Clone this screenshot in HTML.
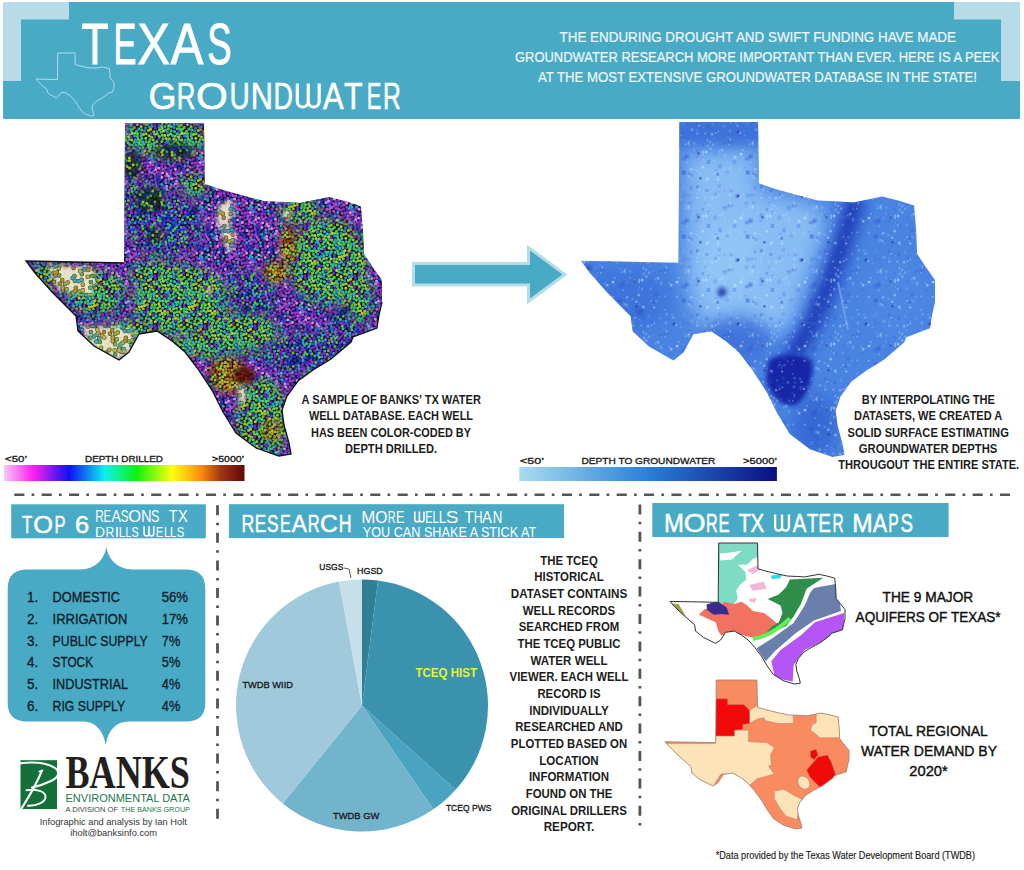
<!DOCTYPE html>
<html><head><meta charset="utf-8"><title>Texas Groundwater</title>
<style>html,body{margin:0;padding:0;background:#fff;width:1024px;height:870px;overflow:hidden}</style>
</head><body>
<svg width="1024" height="870" viewBox="0 0 1024 870" style="display:block">
<defs>
<clipPath id="cm1"><path d="M125.0,123.0 L204.0,123.0 L205.0,184.0 L214.0,187.0 L223.0,190.0 L245.0,196.0 L264.0,201.0 L285.0,202.0 L300.0,203.0 L329.0,197.0 L345.0,201.0 L361.0,206.0 L363.0,230.0 L364.0,254.0 L372.0,266.0 L382.0,280.0 L382.0,302.0 L379.0,315.0 L377.0,328.0 L353.0,337.0 L351.0,342.0 L331.0,359.0 L313.0,370.0 L298.0,381.0 L287.0,396.0 L282.0,410.0 L284.0,425.0 L289.0,443.0 L291.0,454.0 L279.0,456.0 L256.0,448.0 L236.0,433.0 L223.0,412.0 L213.0,392.0 L198.0,369.0 L185.0,352.0 L172.0,341.0 L157.0,331.0 L139.0,334.0 L129.0,352.0 L119.0,360.0 L94.0,346.0 L78.0,331.0 L76.0,316.0 L53.0,293.0 L35.0,273.0 L26.0,261.0 L124.0,263.0 Z"/></clipPath>
<clipPath id="cm2"><path d="M679.4,122.0 L758.0,122.0 L759.0,183.4 L767.9,186.4 L776.9,189.4 L798.8,195.4 L817.7,200.5 L838.5,201.5 L853.5,202.5 L882.3,196.4 L898.2,200.5 L914.1,205.5 L916.1,229.6 L917.1,253.8 L925.1,265.9 L935.0,279.9 L935.0,302.1 L932.0,315.2 L930.0,328.2 L906.2,337.3 L904.2,342.3 L884.3,359.4 L866.4,370.5 L851.5,381.5 L840.5,396.6 L835.6,410.7 L837.6,425.8 L842.5,443.9 L844.5,455.0 L832.6,457.0 L809.7,449.0 L789.8,433.9 L776.9,412.7 L766.9,392.6 L752.0,369.5 L739.1,352.4 L726.2,341.3 L711.3,331.2 L693.4,334.3 L683.4,352.4 L673.5,360.4 L648.6,346.3 L632.7,331.2 L630.7,316.2 L607.8,293.0 L589.9,272.9 L581.0,260.8 L678.4,262.8 Z"/></clipPath>
<clipPath id="cm3"><path d="M718.7,543.0 L757.5,543.0 L758.0,568.8 L762.4,570.1 L766.8,571.4 L777.7,573.9 L787.0,576.0 L797.3,576.5 L804.7,576.9 L818.9,574.3 L826.8,576.0 L834.7,578.1 L835.7,588.3 L836.2,598.5 L840.1,603.5 L845.0,609.5 L845.0,618.8 L843.5,624.3 L842.5,629.8 L830.7,633.6 L829.8,635.7 L819.9,642.9 L811.1,647.6 L803.7,652.2 L798.3,658.6 L795.8,664.5 L796.8,670.9 L799.3,678.5 L800.3,683.2 L794.4,684.0 L783.1,680.6 L773.2,674.3 L766.8,665.4 L761.9,656.9 L754.6,647.2 L748.2,640.0 L741.8,635.3 L734.4,631.1 L725.5,632.3 L720.6,640.0 L715.7,643.4 L703.4,637.4 L695.6,631.1 L694.6,624.7 L683.3,615.0 L674.4,606.5 L670.0,601.4 L718.2,602.3 Z"/></clipPath>
<clipPath id="cm4"><path d="M716.2,680.0 L757.0,680.0 L757.5,707.3 L762.2,708.6 L766.8,710.0 L778.2,712.7 L788.0,714.9 L798.9,715.3 L806.6,715.8 L821.6,713.1 L829.9,714.9 L838.1,717.1 L839.2,727.9 L839.7,738.6 L843.8,744.0 L849.0,750.2 L849.0,760.1 L847.4,765.9 L846.4,771.7 L834.0,775.8 L833.0,778.0 L822.6,785.6 L813.3,790.5 L805.6,795.4 L799.9,802.2 L797.3,808.4 L798.3,815.1 L800.9,823.2 L802.0,828.1 L795.8,829.0 L783.9,825.4 L773.5,818.7 L766.8,809.3 L761.7,800.4 L753.9,790.1 L747.2,782.5 L740.5,777.5 L732.7,773.1 L723.4,774.4 L718.2,782.5 L713.1,786.0 L700.1,779.8 L691.9,773.1 L690.8,766.4 L679.0,756.1 L669.7,747.1 L665.0,741.7 L715.7,742.6 Z"/></clipPath>
<linearGradient id="g1" x1="0" x2="1" y1="0" y2="0"><stop offset="0" stop-color="#f8c8f4"/><stop offset="0.12" stop-color="#ff20f0"/><stop offset="0.27" stop-color="#1010f0"/><stop offset="0.42" stop-color="#10f0f0"/><stop offset="0.55" stop-color="#10f010"/><stop offset="0.70" stop-color="#ffff10"/><stop offset="0.82" stop-color="#ff8a10"/><stop offset="0.90" stop-color="#a03810"/><stop offset="1" stop-color="#600808"/></linearGradient>
<linearGradient id="g2" x1="0" x2="1" y1="0" y2="0"><stop offset="0" stop-color="#a8ddef"/><stop offset="0.5" stop-color="#2a7fd8"/><stop offset="1" stop-color="#0a0f80"/></linearGradient>
<filter id="bl8" x="-50%" y="-50%" width="200%" height="200%"><feGaussianBlur stdDeviation="8"/></filter>
<filter id="blur8" x="-50%" y="-50%" width="200%" height="200%"><feGaussianBlur stdDeviation="8"/></filter>
<filter id="blur3" x="-50%" y="-50%" width="200%" height="200%"><feGaussianBlur stdDeviation="3"/></filter>
<filter id="bl6" x="-50%" y="-50%" width="200%" height="200%"><feGaussianBlur stdDeviation="6"/></filter>
<filter id="bl4" x="-50%" y="-50%" width="200%" height="200%"><feGaussianBlur stdDeviation="4"/></filter>
<filter id="bl3" x="-50%" y="-50%" width="200%" height="200%"><feGaussianBlur stdDeviation="3"/></filter>
<filter id="bl2" x="-50%" y="-50%" width="200%" height="200%"><feGaussianBlur stdDeviation="2"/></filter>
</defs>
<rect width="1024" height="870" fill="#ffffff"/>
<rect x="3" y="2" width="1017" height="117" rx="1.5" fill="#49aac5"/>
<path d="M3,2 H69 V19.5 H21 V81 H3 Z" fill="#b8dce7"/>
<path d="M954,2 H1020 V81 H1001 V19.5 H954 Z" fill="#b8dce7"/>
<path d="M57.7,53.0 L75.0,53.0 L75.2,64.5 L77.2,65.1 L79.2,65.7 L84.0,66.8 L88.1,67.8 L92.7,67.9 L96.0,68.1 L102.4,67.0 L105.9,67.8 L109.4,68.7 L109.8,73.2 L110.1,77.8 L111.8,80.1 L114.0,82.7 L114.0,86.9 L113.3,89.3 L112.9,91.8 L107.6,93.5 L107.2,94.4 L102.8,97.6 L98.9,99.7 L95.6,101.8 L93.2,104.6 L92.1,107.3 L92.5,110.1 L93.6,113.5 L94.1,115.6 L91.4,116.0 L86.4,114.5 L82.0,111.6 L79.2,107.7 L77.0,103.9 L73.7,99.5 L70.8,96.3 L68.0,94.2 L64.7,92.4 L60.8,92.9 L58.6,96.3 L56.4,97.8 L50.9,95.2 L47.4,92.4 L47.0,89.5 L41.9,85.2 L38.0,81.4 L36.0,79.1 L57.5,79.5 Z" fill="none" stroke="#b5e3f0" stroke-width="0.9"/>
<text x="81.4" y="64.0" font-size="56.98" fill="#ffffff" font-weight="normal" text-anchor="start" font-family="'Liberation Sans',sans-serif" textLength="27.0" lengthAdjust="spacingAndGlyphs" stroke="#ffffff" stroke-width="1.0">T</text>
<text x="113.4" y="64.0" font-size="56.98" fill="#ffffff" font-weight="normal" text-anchor="start" font-family="'Liberation Sans',sans-serif" textLength="22.8" lengthAdjust="spacingAndGlyphs" stroke="#ffffff" stroke-width="1.0">E</text>
<text x="137.5" y="64.0" font-size="56.98" fill="#ffffff" font-weight="normal" text-anchor="start" font-family="'Liberation Sans',sans-serif" textLength="32.4" lengthAdjust="spacingAndGlyphs" stroke="#ffffff" stroke-width="1.0">X</text>
<text x="170.7" y="64.0" font-size="56.98" fill="#ffffff" font-weight="normal" text-anchor="start" font-family="'Liberation Sans',sans-serif" textLength="32.5" lengthAdjust="spacingAndGlyphs" stroke="#ffffff" stroke-width="1.0">A</text>
<text x="207.3" y="64.0" font-size="56.98" fill="#ffffff" font-weight="normal" text-anchor="start" font-family="'Liberation Sans',sans-serif" textLength="24.2" lengthAdjust="spacingAndGlyphs" stroke="#ffffff" stroke-width="1.0">S</text>
<text x="148.6" y="108.6" font-size="36.63" fill="#ffffff" font-weight="normal" text-anchor="start" font-family="'Liberation Sans',sans-serif" textLength="28.0" lengthAdjust="spacingAndGlyphs" stroke="#ffffff" stroke-width="0.6">G</text>
<text x="176.8" y="108.6" font-size="36.63" fill="#ffffff" font-weight="normal" text-anchor="start" font-family="'Liberation Sans',sans-serif" textLength="18.6" lengthAdjust="spacingAndGlyphs" stroke="#ffffff" stroke-width="0.6">R</text>
<text x="196.1" y="108.6" font-size="36.63" fill="#ffffff" font-weight="normal" text-anchor="start" font-family="'Liberation Sans',sans-serif" textLength="31.8" lengthAdjust="spacingAndGlyphs" stroke="#ffffff" stroke-width="0.6">O</text>
<text x="229.4" y="108.6" font-size="36.63" fill="#ffffff" font-weight="normal" text-anchor="start" font-family="'Liberation Sans',sans-serif" textLength="20.2" lengthAdjust="spacingAndGlyphs" stroke="#ffffff" stroke-width="0.6">U</text>
<text x="250.7" y="108.6" font-size="36.63" fill="#ffffff" font-weight="normal" text-anchor="start" font-family="'Liberation Sans',sans-serif" textLength="22.2" lengthAdjust="spacingAndGlyphs" stroke="#ffffff" stroke-width="0.6">N</text>
<text x="273.4" y="108.6" font-size="36.63" fill="#ffffff" font-weight="normal" text-anchor="start" font-family="'Liberation Sans',sans-serif" textLength="19.4" lengthAdjust="spacingAndGlyphs" stroke="#ffffff" stroke-width="0.6">D</text>
<path d="M297.30,83.40 V101.53 A5.47,5.47 0 0 0 308.25,101.53 V83.40 M308.25,101.53 A5.47,5.47 0 0 0 319.20,101.53 V83.40" fill="none" stroke="#ffffff" stroke-width="3.2"/>
<text x="322.9" y="108.6" font-size="36.63" fill="#ffffff" font-weight="normal" text-anchor="start" font-family="'Liberation Sans',sans-serif" textLength="20.6" lengthAdjust="spacingAndGlyphs" stroke="#ffffff" stroke-width="0.6">A</text>
<text x="344.1" y="108.6" font-size="36.63" fill="#ffffff" font-weight="normal" text-anchor="start" font-family="'Liberation Sans',sans-serif" textLength="18.6" lengthAdjust="spacingAndGlyphs" stroke="#ffffff" stroke-width="0.6">T</text>
<text x="366.7" y="108.6" font-size="36.63" fill="#ffffff" font-weight="normal" text-anchor="start" font-family="'Liberation Sans',sans-serif" textLength="14.6" lengthAdjust="spacingAndGlyphs" stroke="#ffffff" stroke-width="0.6">E</text>
<text x="383.0" y="108.6" font-size="36.63" fill="#ffffff" font-weight="normal" text-anchor="start" font-family="'Liberation Sans',sans-serif" textLength="17.8" lengthAdjust="spacingAndGlyphs" stroke="#ffffff" stroke-width="0.6">R</text>
<text x="559.5" y="41.6" font-size="14.83" fill="#eef8fb" font-weight="normal" text-anchor="start" font-family="'Liberation Sans',sans-serif" textLength="396.5" lengthAdjust="spacingAndGlyphs" stroke="#eef8fb" stroke-width="0.2">THE ENDURING DROUGHT AND SWIFT FUNDING HAVE MADE</text>
<text x="515.0" y="61.9" font-size="14.83" fill="#eef8fb" font-weight="normal" text-anchor="start" font-family="'Liberation Sans',sans-serif" textLength="484.5" lengthAdjust="spacingAndGlyphs" stroke="#eef8fb" stroke-width="0.2">GROUNDWATER RESEARCH MORE IMPORTANT THAN EVER. HERE IS A PEEK</text>
<text x="538.0" y="82.2" font-size="14.83" fill="#eef8fb" font-weight="normal" text-anchor="start" font-family="'Liberation Sans',sans-serif" textLength="439.0" lengthAdjust="spacingAndGlyphs" stroke="#eef8fb" stroke-width="0.2">AT THE MOST EXTENSIVE GROUNDWATER DATABASE IN THE STATE!</text>
<defs><pattern id="tpur" x="0" y="0" width="50" height="50" patternUnits="userSpaceOnUse"><rect width="50" height="50" fill="#1a1030"/><path d="M11.9 27.2h0M45.8 23.7h0M30.3 45.4h0M13.0 11.7h0M27.0 27.5h0M32.0 7.5h0M43.4 26.2h0M33.6 3.2h0M15.1 1.6h0M15.1 51.6h0M23.6 35.9h0M35.7 46.1h0M36.4 28.8h0M43.9 4.9h0M24.7 12.9h0M38.9 42.8h0M25.4 19.3h0M11.6 16.8h0M42.8 -0.5h0M42.8 49.5h0M34.9 16.3h0M45.2 28.5h0M31.6 -0.6h0M31.6 49.4h0M4.4 40.0h0M44.9 1.0h0M44.9 51.0h0M2.2 30.7h0M52.2 30.7h0M18.9 29.3h0M25.3 -0.1h0M25.3 49.9h0M0.4 5.4h0M50.4 5.4h0M1.6 9.9h0M51.6 9.9h0M34.5 -1.0h0M34.5 49.0h0M15.7 -2.1h0M15.7 47.9h0M18.8 43.5h0M32.2 29.8h0M5.1 -1.4h0M5.1 48.6h0M13.6 31.7h0M16.9 39.4h0M31.4 23.3h0M30.4 13.9h0M12.6 22.8h0M8.9 9.3h0M42.2 13.2h0M-1.4 34.2h0M48.6 34.2h0M15.5 11.1h0M11.9 9.4h0M33.7 11.2h0M4.0 37.1h0M11.3 6.0h0M-2.1 15.8h0M47.9 15.8h0M43.2 17.0h0M40.3 17.3h0M21.1 25.9h0M23.2 31.7h0M21.0 20.5h0M7.8 0.2h0M7.8 50.2h0M21.7 -2.5h0M21.7 47.5h0M1.6 22.8h0M51.6 22.8h0M-1.8 27.2h0M48.2 27.2h0M43.1 42.9h0M6.0 12.2h0M45.2 34.7h0M44.8 45.0h0M0.7 37.3h0M50.7 37.3h0M1.0 26.8h0M51.0 26.8h0M47.0 30.6h0M27.0 40.6h0M8.6 39.6h0M31.4 43.1h0M37.8 12.4h0M26.0 2.5h0M26.0 52.5h0M38.8 0.1h0M38.8 50.1h0M25.8 24.5h0M15.7 17.6h0M29.3 18.0h0M-0.6 21.4h0M49.4 21.4h0M27.8 35.8h0M39.8 28.3h0M40.1 31.1h0M38.0 15.7h0M3.6 21.2h0M28.0 43.5h0M23.2 6.2h0M5.2 29.4h0M28.2 33.0h0M42.2 33.7h0M46.7 3.1h0M43.5 9.0h0M37.7 19.7h0M27.8 -1.7h0M27.8 48.3h0M20.6 37.4h0M8.1 24.9h0M9.3 13.4h0M46.7 42.6h0M35.3 20.7h0M13.4 40.2h0M8.6 18.0h0M24.1 43.2h0M36.0 42.8h0M2.3 45.5h0M52.3 45.5h0M32.4 38.9h0M45.0 12.8h0M15.7 21.2h0M37.1 24.5h0M27.2 6.0h0M35.0 33.9h0M33.6 26.8h0M3.0 14.7h0M53.0 14.7h0M32.5 21.0h0M13.3 19.2h0M13.5 5.0h0M5.6 34.9h0M45.3 15.5h0M15.0 43.0h0M8.7 31.3h0M2.5 18.0h0M52.5 18.0h0M42.0 38.8h0M35.8 37.0h0M42.4 22.4h0M29.8 11.2h0M22.1 9.2h0M20.2 15.9h0M1.3 -1.7h0M1.3 48.3h0M51.3 -1.7h0M51.3 48.3h0M5.8 45.6h0M-0.9 -2.9h0M-0.9 47.1h0M49.1 -2.9h0M49.1 47.1h0M24.4 28.1h0M17.2 4.7h0M0.2 1.5h0M0.2 51.5h0M50.2 1.5h0M50.2 51.5h0M25.5 16.6h0M17.0 23.9h0M5.7 19.5h0M30.0 40.1h0M5.5 4.0h0M12.0 2.4h0M12.0 52.4h0M46.8 7.2h0M10.4 42.5h0M26.8 9.4h0M31.1 2.1h0M31.1 52.1h0M39.2 3.4h0M21.5 4.2h0M43.8 36.8h0M45.2 -2.5h0M45.2 47.5h0M7.1 22.2h0M24.4 40.5h0M40.1 20.9h0M26.1 37.7h0M15.7 26.1h0M29.9 5.8h0M14.0 35.5h0M12.5 -1.0h0M12.5 49.0h0M6.2 41.9h0M6.5 7.3h0M19.5 -0.6h0M19.5 49.4h0M18.5 7.1h0M37.4 39.1h0M0.7 43.5h0M50.7 43.5h0M26.4 22.1h0M18.3 10.7h0M18.6 18.6h0M18.6 32.6h0M34.1 6.0h0M14.9 14.3h0M41.2 45.9h0M26.6 31.0h0M11.6 34.2h0M5.4 26.4h0M41.2 10.2h0M29.6 29.2h0M36.2 8.6h0M5.8 16.8h0M16.8 36.3h0M19.4 40.3h0M10.5 29.3h0M40.1 37.0h0M16.0 32.7h0M10.7 45.9h0M-2.7 10.0h0M47.3 10.0h0M8.2 45.0h0M34.5 40.7h0M20.3 23.2h0M34.9 30.9h0M2.2 34.5h0M52.2 34.5h0M38.0 34.3h0M28.5 23.7h0M1.6 39.6h0M51.6 39.6h0M44.9 20.0h0M3.4 11.7h0M9.9 22.2h0M38.8 46.8h0M44.5 39.9h0M28.6 1.0h0M28.6 51.0h0M-0.6 31.6h0M49.4 31.6h0M33.0 45.5h0M0.1 18.9h0M50.1 18.9h0M0.4 12.5h0M50.4 12.5h0M31.2 26.0h0M31.8 16.1h0M25.5 33.8h0M27.8 14.1h0M17.8 46.2h0M41.3 6.0h0M15.7 29.9h0M2.1 3.1h0M52.1 3.1h0M30.6 35.8h0M15.2 7.5h0M-2.9 -0.7h0M-2.9 49.3h0M47.1 -0.7h0M47.1 49.3h0M39.7 23.5h0M37.7 5.9h0M42.9 30.5h0M46.9 38.7h0M21.4 1.2h0M21.4 51.2h0M12.0 37.6h0M23.7 23.0h0M41.8 2.5h0M41.8 52.5h0M2.9 0.5h0M2.9 50.5h0M52.9 0.5h0M52.9 50.5h0M10.8 24.7h0M23.0 15.3h0M32.4 32.3h0M-2.5 18.6h0M47.5 18.6h0M35.9 4.1h0M21.5 12.0h0M14.9 45.5h0M4.5 24.0h0M40.0 40.4h0M8.7 4.7h0M21.6 28.6h0M8.4 27.4h0M2.1 7.2h0M52.1 7.2h0M18.6 13.8h0M24.9 46.0h0M-1.2 24.1h0M48.8 24.1h0M7.1 37.2h0M-0.7 41.0h0M49.3 41.0h0M21.2 34.5h0M12.0 14.3h0M21.2 42.6h0M18.6 26.2h0M29.0 20.6h0M7.5 -2.4h0M7.5 47.6h0M35.3 13.6h0M8.8 34.6h0M-0.8 8.4h0M49.2 8.4h0M22.4 17.9h0M6.1 32.4h0M33.5 18.7h0M18.8 2.2h0M18.8 52.2h0M36.2 1.5h0M36.2 51.5h0M29.7 8.7h0M-2.3 12.5h0M47.7 12.5h0M-1.8 44.7h0M48.2 44.7h0M0.5 15.2h0M50.5 15.2h0M34.5 23.3h0M33.2 36.4h0M18.3 21.2h0M37.3 31.9h0M2.9 42.1h0M52.9 42.1h0M7.0 14.5h0M4.6 9.4h0M38.8 9.4h0M28.6 3.6h0M20.9 45.1h0M10.7 19.6h0M40.9 25.8h0M14.7 38.1h0" stroke="#101010" stroke-width="4.30" stroke-linecap="round" fill="none"/><path d="M15.1 1.6h0M15.1 51.6h0M31.6 -0.6h0M31.6 49.4h0M25.3 -0.1h0M25.3 49.9h0M15.5 11.1h0M21.1 25.9h0M23.2 31.7h0M43.1 42.9h0M42.2 33.7h0M35.3 20.7h0M27.2 6.0h0M32.5 21.0h0M-0.9 -2.9h0M-0.9 47.1h0M49.1 -2.9h0M49.1 47.1h0M24.4 40.5h0M40.1 20.9h0M14.0 35.5h0M19.5 -0.6h0M19.5 49.4h0M5.4 26.4h0M29.6 29.2h0M10.5 29.3h0M34.9 30.9h0M38.8 46.8h0M27.8 14.1h0M46.9 38.7h0M12.0 37.6h0M6.1 32.4h0M7.0 14.5h0M4.6 9.4h0M28.6 3.6h0M40.9 25.8h0" stroke="#2a48d8" stroke-width="3.10" stroke-linecap="round" fill="none"/><path d="M45.2 28.5h0M13.6 31.7h0M4.0 37.1h0M21.7 -2.5h0M21.7 47.5h0M-1.8 27.2h0M48.2 27.2h0M45.2 34.7h0M29.3 18.0h0M9.3 13.4h0M13.4 40.2h0M2.3 45.5h0M52.3 45.5h0M8.7 31.3h0M2.5 18.0h0M52.5 18.0h0M1.3 -1.7h0M1.3 48.3h0M51.3 -1.7h0M51.3 48.3h0M5.5 4.0h0M21.5 4.2h0M-2.7 10.0h0M47.3 10.0h0M31.8 16.1h0M-2.9 -0.7h0M-2.9 49.3h0M47.1 -0.7h0M47.1 49.3h0M21.4 1.2h0M21.4 51.2h0M21.5 12.0h0M8.4 27.4h0M8.8 34.6h0M22.4 17.9h0M-1.8 44.7h0M48.2 44.7h0M18.3 21.2h0M37.3 31.9h0" stroke="#3030c8" stroke-width="3.10" stroke-linecap="round" fill="none"/><path d="M34.9 16.3h0M18.9 29.3h0M0.4 5.4h0M50.4 5.4h0M32.2 29.8h0M5.1 -1.4h0M5.1 48.6h0M11.3 6.0h0M7.8 0.2h0M7.8 50.2h0M1.6 22.8h0M51.6 22.8h0M37.8 12.4h0M23.2 6.2h0M46.7 42.6h0M10.4 42.5h0M39.2 3.4h0M26.1 37.7h0M6.5 7.3h0M18.3 10.7h0M11.6 34.2h0M16.0 32.7h0M10.7 45.9h0M28.5 23.7h0M1.6 39.6h0M51.6 39.6h0M3.4 11.7h0M31.2 26.0h0M2.1 7.2h0M52.1 7.2h0M18.6 13.8h0M21.2 34.5h0M-0.8 8.4h0M49.2 8.4h0M14.7 38.1h0" stroke="#30a0d0" stroke-width="3.10" stroke-linecap="round" fill="none"/><path d="M30.3 45.4h0M13.0 11.7h0M30.4 13.9h0M8.1 24.9h0M45.3 15.5h0M15.0 43.0h0M25.5 16.6h0M43.8 36.8h0M45.2 -2.5h0M45.2 47.5h0M18.5 7.1h0M18.6 18.6h0M19.4 40.3h0M8.2 45.0h0M34.5 40.7h0M30.6 35.8h0M2.9 0.5h0M2.9 50.5h0M52.9 0.5h0M52.9 50.5h0M32.4 32.3h0M35.3 13.6h0M33.5 18.7h0M36.2 1.5h0M36.2 51.5h0M2.9 42.1h0M52.9 42.1h0M10.7 19.6h0" stroke="#5a30c0" stroke-width="3.10" stroke-linecap="round" fill="none"/><path d="M45.8 23.7h0M43.2 17.0h0M28.0 43.5h0M43.5 9.0h0M32.4 38.9h0M15.7 21.2h0M33.6 26.8h0M13.5 5.0h0M0.2 1.5h0M0.2 51.5h0M50.2 1.5h0M50.2 51.5h0M31.1 2.1h0M31.1 52.1h0M12.5 -1.0h0M12.5 49.0h0M18.6 32.6h0M14.9 14.3h0M41.2 10.2h0M44.9 20.0h0M9.9 22.2h0M41.3 6.0h0M37.7 5.9h0M23.7 23.0h0M10.8 24.7h0M14.9 45.5h0M40.0 40.4h0M24.9 46.0h0M21.2 42.6h0M29.0 20.6h0M7.5 -2.4h0M7.5 47.6h0M34.5 23.3h0M33.2 36.4h0" stroke="#8030c8" stroke-width="3.10" stroke-linecap="round" fill="none"/><path d="M43.4 26.2h0M33.6 3.2h0M11.6 16.8h0M2.2 30.7h0M52.2 30.7h0M6.0 12.2h0M44.8 45.0h0M1.0 26.8h0M51.0 26.8h0M27.0 40.6h0M31.4 43.1h0M38.8 0.1h0M38.8 50.1h0M39.8 28.3h0M5.2 29.4h0M45.0 12.8h0M42.0 38.8h0M29.8 11.2h0M22.1 9.2h0M20.2 15.9h0M5.8 45.6h0M24.4 28.1h0M30.0 40.1h0M46.8 7.2h0M6.2 41.9h0M26.4 22.1h0M0.1 18.9h0M50.1 18.9h0M41.8 2.5h0M41.8 52.5h0M-1.2 24.1h0M48.8 24.1h0M12.0 14.3h0M-2.3 12.5h0M47.7 12.5h0M0.5 15.2h0M50.5 15.2h0M20.9 45.1h0" stroke="#9a30d8" stroke-width="3.10" stroke-linecap="round" fill="none"/><path d="M27.0 27.5h0M23.6 35.9h0M35.7 46.1h0M24.7 12.9h0M38.9 42.8h0M4.4 40.0h0M44.9 1.0h0M44.9 51.0h0M1.6 9.9h0M51.6 9.9h0M15.7 -2.1h0M15.7 47.9h0M18.8 43.5h0M42.2 13.2h0M11.9 9.4h0M21.0 20.5h0M15.7 17.6h0M27.8 35.8h0M40.1 31.1h0M38.0 15.7h0M3.6 21.2h0M28.2 33.0h0M27.8 -1.7h0M27.8 48.3h0M24.1 43.2h0M36.0 42.8h0M5.6 34.9h0M17.2 4.7h0M7.1 22.2h0M15.7 26.1h0M37.4 39.1h0M0.7 43.5h0M50.7 43.5h0M34.1 6.0h0M41.2 45.9h0M36.2 8.6h0M40.1 37.0h0M20.3 23.2h0M2.2 34.5h0M52.2 34.5h0M38.0 34.3h0M44.5 39.9h0M-0.6 31.6h0M49.4 31.6h0M39.7 23.5h0M42.9 30.5h0M23.0 15.3h0M-2.5 18.6h0M47.5 18.6h0M38.8 9.4h0" stroke="#a040e0" stroke-width="3.10" stroke-linecap="round" fill="none"/><path d="M32.0 7.5h0M36.4 28.8h0M43.9 4.9h0M42.8 -0.5h0M42.8 49.5h0M-1.4 34.2h0M48.6 34.2h0M33.7 11.2h0M-2.1 15.8h0M47.9 15.8h0M40.3 17.3h0M0.7 37.3h0M50.7 37.3h0M8.6 39.6h0M25.8 24.5h0M-0.6 21.4h0M49.4 21.4h0M20.6 37.4h0M37.1 24.5h0M3.0 14.7h0M53.0 14.7h0M13.3 19.2h0M12.0 2.4h0M12.0 52.4h0M26.8 9.4h0M29.9 5.8h0M5.8 16.8h0M33.0 45.5h0M15.7 29.9h0M35.9 4.1h0M4.5 24.0h0M7.1 37.2h0M-0.7 41.0h0M49.3 41.0h0M29.7 8.7h0" stroke="#b050e0" stroke-width="3.10" stroke-linecap="round" fill="none"/><path d="M11.9 27.2h0M25.4 19.3h0M34.5 -1.0h0M34.5 49.0h0M16.9 39.4h0M31.4 23.3h0M12.6 22.8h0M8.9 9.3h0M47.0 30.6h0M26.0 2.5h0M26.0 52.5h0M46.7 3.1h0M37.7 19.7h0M8.6 18.0h0M35.0 33.9h0M35.8 37.0h0M42.4 22.4h0M17.0 23.9h0M5.7 19.5h0M26.6 31.0h0M16.8 36.3h0M28.6 1.0h0M28.6 51.0h0M0.4 12.5h0M50.4 12.5h0M25.5 33.8h0M17.8 46.2h0M2.1 3.1h0M52.1 3.1h0M15.2 7.5h0M8.7 4.7h0M21.6 28.6h0M18.6 26.2h0M18.8 2.2h0M18.8 52.2h0" stroke="#d890f0" stroke-width="3.10" stroke-linecap="round" fill="none"/></pattern><pattern id="tgrn" x="0" y="0" width="50" height="50" patternUnits="userSpaceOnUse"><rect width="50" height="50" fill="#182010"/><path d="M31.1 37.1h0M1.5 23.3h0M51.5 23.3h0M32.4 45.0h0M18.6 43.4h0M27.2 28.7h0M36.6 20.4h0M45.8 38.3h0M38.1 3.6h0M6.3 0.1h0M6.3 50.1h0M10.5 10.8h0M43.6 14.5h0M27.0 33.9h0M9.1 -1.6h0M9.1 48.4h0M-1.7 44.7h0M48.3 44.7h0M1.1 20.7h0M51.1 20.7h0M13.2 16.6h0M3.3 17.8h0M24.0 15.8h0M23.6 8.8h0M-1.2 1.1h0M-1.2 51.1h0M48.8 1.1h0M48.8 51.1h0M42.2 0.9h0M42.2 50.9h0M18.3 28.9h0M22.6 35.4h0M6.0 12.3h0M17.2 17.7h0M12.5 23.1h0M-2.7 4.6h0M47.3 4.6h0M25.6 18.1h0M17.0 46.2h0M4.6 34.3h0M8.9 3.9h0M36.1 15.5h0M-0.7 26.7h0M49.3 26.7h0M1.6 37.0h0M51.6 37.0h0M41.3 22.8h0M31.9 40.1h0M41.9 6.5h0M5.3 21.7h0M7.1 46.1h0M-1.2 22.7h0M48.8 22.7h0M41.1 26.6h0M31.3 25.0h0M9.0 24.6h0M39.1 43.4h0M3.2 39.8h0M34.7 33.2h0M18.2 35.2h0M-1.0 35.8h0M49.0 35.8h0M32.5 29.0h0M23.7 38.7h0M33.6 23.1h0M17.4 32.2h0M43.5 34.4h0M26.5 8.3h0M34.6 36.0h0M8.6 39.0h0M1.4 8.0h0M51.4 8.0h0M31.2 9.0h0M31.5 2.1h0M31.5 52.1h0M44.6 5.5h0M24.1 27.4h0M23.3 19.0h0M29.5 11.9h0M13.9 20.5h0M34.4 27.4h0M27.5 15.1h0M29.0 -2.1h0M29.0 47.9h0M21.0 40.6h0M18.5 7.1h0M-1.6 30.4h0M48.4 30.4h0M41.1 33.1h0M5.4 28.3h0M7.0 31.5h0M21.5 -1.2h0M21.5 48.8h0M14.6 -1.4h0M14.6 48.6h0M12.6 1.0h0M12.6 51.0h0M23.8 6.1h0M6.8 19.6h0M12.3 13.4h0M24.6 -0.4h0M24.6 49.6h0M14.8 26.5h0M34.3 5.4h0M9.6 21.5h0M29.7 34.5h0M42.9 42.1h0M9.8 14.8h0M38.9 29.1h0M40.6 3.4h0M13.4 4.3h0M36.1 -1.1h0M36.1 48.9h0M35.1 2.4h0M35.1 52.4h0M11.0 32.3h0M3.6 2.9h0M3.6 52.9h0M15.7 30.0h0M11.8 41.6h0M36.8 9.0h0M34.1 11.2h0M4.2 45.6h0M31.2 17.7h0M35.3 39.8h0M6.8 41.6h0M44.5 24.0h0M44.5 31.0h0M16.2 23.1h0M7.7 8.0h0M37.5 33.6h0M46.2 18.4h0M23.6 -2.7h0M23.6 47.3h0M39.3 16.2h0M1.2 11.5h0M51.2 11.5h0M9.2 18.1h0M20.5 2.2h0M20.5 52.2h0M-2.5 9.7h0M47.5 9.7h0M11.7 46.3h0M36.5 31.2h0M27.0 24.3h0M39.0 13.2h0M15.6 6.5h0M39.9 -1.6h0M39.9 48.4h0M12.4 35.2h0M44.1 44.3h0M21.0 15.7h0M0.0 14.3h0M50.0 14.3h0M28.7 22.1h0M43.0 -2.5h0M43.0 47.5h0M0.6 29.2h0M50.6 29.2h0M5.9 15.9h0M23.0 21.7h0M38.2 39.3h0M17.6 12.4h0M35.9 45.0h0M26.7 4.6h0M15.9 1.4h0M15.9 51.4h0M0.7 46.5h0M50.7 46.5h0M33.5 -2.2h0M33.5 47.8h0M44.8 12.0h0M33.6 18.9h0M13.4 31.1h0M28.5 31.3h0M21.3 26.4h0M15.1 14.0h0M9.5 29.7h0M24.2 41.7h0M15.9 42.5h0M4.6 7.6h0M16.1 38.5h0M-1.9 -2.7h0M-1.9 47.3h0M48.1 -2.7h0M48.1 47.3h0M21.6 11.0h0M3.9 -1.4h0M3.9 48.6h0M38.9 21.7h0M44.9 0.7h0M44.9 50.7h0M22.9 3.7h0M37.4 24.7h0M29.9 6.8h0M14.7 44.8h0M12.0 28.4h0M19.5 18.9h0M4.9 25.7h0M28.3 2.1h0M28.3 52.1h0M12.6 8.3h0M41.8 29.7h0M34.0 13.7h0M17.6 4.0h0M5.5 4.8h0M43.5 3.1h0M4.7 36.9h0M20.3 23.1h0M25.7 45.9h0M9.6 44.1h0M2.9 14.4h0M52.9 14.4h0M-2.8 15.6h0M47.2 15.6h0M0.1 39.5h0M50.1 39.5h0M42.0 18.3h0M9.1 27.2h0M41.4 44.9h0M21.2 30.8h0M29.7 44.5h0M2.1 5.4h0M52.1 5.4h0M31.3 14.2h0M37.4 36.4h0M18.4 0.8h0M18.4 50.8h0M41.9 38.4h0M45.6 27.9h0M16.9 9.7h0M20.0 45.5h0M24.5 31.6h0M44.8 21.2h0M24.4 12.7h0M39.2 6.7h0M46.2 41.9h0M1.5 44.0h0M51.5 44.0h0M28.2 18.9h0M29.5 39.5h0M1.1 33.5h0M51.1 33.5h0M26.9 11.8h0M7.3 34.1h0M43.3 8.7h0M27.8 42.6h0M29.8 28.8h0M37.9 1.0h0M37.9 51.0h0M14.9 35.5h0M31.0 20.6h0M39.6 9.5h0M3.8 31.8h0M9.4 36.6h0M31.0 31.1h0M19.3 38.7h0M1.1 2.2h0M1.1 52.2h0M51.1 2.2h0M51.1 52.2h0M12.9 38.9h0M24.0 24.3h0M18.6 25.9h0M39.2 19.1h0M-2.4 7.1h0M47.6 7.1h0M-0.8 18.9h0M49.2 18.9h0M28.5 37.0h0M18.5 14.9h0M22.9 44.0h0M25.3 36.3h0M41.5 11.9h0M25.7 2.0h0M25.7 52.0h0M9.8 6.4h0M9.8 0.9h0M9.8 50.9h0M2.0 26.4h0M52.0 26.4h0M46.2 33.7h0M3.8 10.6h0M25.6 20.8h0M34.3 42.4h0M33.1 16.1h0M11.5 25.8h0M-1.9 12.4h0M48.1 12.4h0M28.9 26.0h0M14.7 11.2h0M21.0 6.5h0M26.0 39.9h0M0.1 -1.0h0M0.1 49.0h0M50.1 -1.0h0M50.1 49.0h0M47.0 24.5h0M45.8 -1.9h0M45.8 48.1h0M11.6 19.1h0M40.2 40.9h0M36.5 12.0h0M19.8 9.3h0M38.3 46.3h0M20.5 33.7h0M18.7 -1.8h0M18.7 48.2h0M4.4 42.9h0M17.8 21.1h0M30.1 4.3h0M34.3 8.5h0M7.9 10.7h0M36.9 17.9h0M-0.9 41.9h0M49.1 41.9h0M41.2 35.7h0M31.2 -0.7h0M31.2 49.3h0M37.1 41.8h0M32.2 33.4h0M17.7 40.7h0" stroke="#101010" stroke-width="4.30" stroke-linecap="round" fill="none"/><path d="M18.6 43.4h0M42.2 0.9h0M42.2 50.9h0M-0.7 26.7h0M49.3 26.7h0M41.3 22.8h0M17.4 32.2h0M34.6 36.0h0M24.1 27.4h0M18.5 7.1h0M41.1 33.1h0M7.0 31.5h0M14.6 -1.4h0M14.6 48.6h0M9.6 21.5h0M36.1 -1.1h0M36.1 48.9h0M35.3 39.8h0M44.5 31.0h0M27.0 24.3h0M39.0 13.2h0M15.9 42.5h0M22.9 3.7h0M34.0 13.7h0M17.6 4.0h0M25.7 45.9h0M-2.8 15.6h0M47.2 15.6h0M9.1 27.2h0M45.6 27.9h0M18.5 14.9h0M2.0 26.4h0M52.0 26.4h0M21.0 6.5h0M38.3 46.3h0M30.1 4.3h0M31.2 -0.7h0M31.2 49.3h0M37.1 41.8h0" stroke="#2a90d0" stroke-width="3.10" stroke-linecap="round" fill="none"/><path d="M1.5 23.3h0M51.5 23.3h0M43.6 14.5h0M27.0 33.9h0M9.1 -1.6h0M9.1 48.4h0M22.6 35.4h0M40.6 3.4h0M31.2 17.7h0M16.2 23.1h0M39.9 -1.6h0M39.9 48.4h0M5.9 15.9h0M35.9 45.0h0M26.7 4.6h0M0.7 46.5h0M50.7 46.5h0M21.3 26.4h0M21.6 11.0h0M3.9 -1.4h0M3.9 48.6h0M29.9 6.8h0M12.6 8.3h0M31.3 14.2h0M24.5 31.6h0M46.2 41.9h0M29.5 39.5h0M39.2 19.1h0M-0.8 18.9h0M49.2 18.9h0M41.5 11.9h0M9.8 0.9h0M9.8 50.9h0M4.4 42.9h0M34.3 8.5h0" stroke="#30b8b8" stroke-width="3.10" stroke-linecap="round" fill="none"/><path d="M38.1 3.6h0M24.0 15.8h0M6.0 12.3h0M36.1 15.5h0M-1.2 22.7h0M48.8 22.7h0M1.4 8.0h0M51.4 8.0h0M31.5 2.1h0M31.5 52.1h0M21.5 -1.2h0M21.5 48.8h0M23.8 6.1h0M6.8 19.6h0M14.8 26.5h0M29.7 34.5h0M42.9 42.1h0M38.9 29.1h0M15.7 30.0h0M4.2 45.6h0M39.3 16.2h0M36.5 31.2h0M23.0 21.7h0M0.1 39.5h0M50.1 39.5h0M37.4 36.4h0M41.9 38.4h0M26.9 11.8h0M29.8 28.8h0M24.0 24.3h0M25.7 2.0h0M25.7 52.0h0M40.2 40.9h0M18.7 -1.8h0M18.7 48.2h0M17.7 40.7h0" stroke="#30c0a0" stroke-width="3.10" stroke-linecap="round" fill="none"/><path d="M32.4 45.0h0M23.3 19.0h0M13.9 20.5h0M9.8 14.8h0M13.4 4.3h0M35.1 2.4h0M35.1 52.4h0M11.0 32.3h0M3.6 2.9h0M3.6 52.9h0M34.1 11.2h0M23.6 -2.7h0M23.6 47.3h0M1.2 11.5h0M51.2 11.5h0M9.2 18.1h0M11.7 46.3h0M15.6 6.5h0M44.1 44.3h0M24.2 41.7h0M4.6 7.6h0M-1.9 -2.7h0M-1.9 47.3h0M48.1 -2.7h0M48.1 47.3h0M28.3 2.1h0M28.3 52.1h0M20.3 23.1h0M42.0 18.3h0M41.4 44.9h0M21.2 30.8h0M18.4 0.8h0M18.4 50.8h0M20.0 45.5h0M1.5 44.0h0M51.5 44.0h0M37.9 1.0h0M37.9 51.0h0M31.0 31.1h0M12.9 38.9h0M34.3 42.4h0M-1.9 12.4h0M48.1 12.4h0M41.2 35.7h0" stroke="#40c070" stroke-width="3.10" stroke-linecap="round" fill="none"/><path d="M27.2 28.7h0M6.3 0.1h0M6.3 50.1h0M13.2 16.6h0M18.3 28.9h0M32.5 29.0h0M34.4 27.4h0M36.8 9.0h0M37.5 33.6h0M46.2 18.4h0M28.7 22.1h0M43.0 -2.5h0M43.0 47.5h0M17.6 12.4h0M38.9 21.7h0M41.8 29.7h0M2.1 5.4h0M52.1 5.4h0M44.8 21.2h0M22.9 44.0h0M33.1 16.1h0M11.5 25.8h0M-0.9 41.9h0M49.1 41.9h0" stroke="#58c838" stroke-width="3.10" stroke-linecap="round" fill="none"/><path d="M-1.7 44.7h0M48.3 44.7h0M3.3 17.8h0M23.6 8.8h0M4.6 34.3h0M34.7 33.2h0M18.2 35.2h0M27.5 15.1h0M12.6 1.0h0M12.6 51.0h0M11.8 41.6h0M6.8 41.6h0M12.4 35.2h0M15.9 1.4h0M15.9 51.4h0M12.0 28.4h0M5.5 4.8h0M43.5 3.1h0M29.7 44.5h0M24.4 12.7h0M7.3 34.1h0M27.8 42.6h0M31.0 20.6h0M9.4 36.6h0M19.3 38.7h0M18.6 25.9h0M25.3 36.3h0M9.8 6.4h0M3.8 10.6h0M26.0 39.9h0M0.1 -1.0h0M0.1 49.0h0M50.1 -1.0h0M50.1 49.0h0M11.6 19.1h0M20.5 33.7h0" stroke="#60d850" stroke-width="3.10" stroke-linecap="round" fill="none"/><path d="M31.1 37.1h0M17.2 17.7h0M17.0 46.2h0M9.0 24.6h0M33.6 23.1h0M8.6 39.0h0M21.0 40.6h0M5.4 28.3h0M24.6 -0.4h0M24.6 49.6h0M34.3 5.4h0M20.5 2.2h0M20.5 52.2h0M-2.5 9.7h0M47.5 9.7h0M21.0 15.7h0M44.8 12.0h0M33.6 18.9h0M28.5 31.3h0M14.7 44.8h0M4.9 25.7h0M4.7 36.9h0M9.6 44.1h0M2.9 14.4h0M52.9 14.4h0M16.9 9.7h0M1.1 33.5h0M51.1 33.5h0M1.1 2.2h0M1.1 52.2h0M51.1 2.2h0M51.1 52.2h0M-2.4 7.1h0M47.6 7.1h0M25.6 20.8h0M45.8 -1.9h0M45.8 48.1h0M36.9 17.9h0" stroke="#6a30c0" stroke-width="3.10" stroke-linecap="round" fill="none"/><path d="M-1.2 1.1h0M-1.2 51.1h0M48.8 1.1h0M48.8 51.1h0M12.5 23.1h0M-2.7 4.6h0M47.3 4.6h0M1.6 37.0h0M51.6 37.0h0M31.9 40.1h0M31.3 25.0h0M39.1 43.4h0M3.2 39.8h0M-1.0 35.8h0M49.0 35.8h0M23.7 38.7h0M43.5 34.4h0M26.5 8.3h0M29.5 11.9h0M-1.6 30.4h0M48.4 30.4h0M44.5 24.0h0M7.7 8.0h0M38.2 39.3h0M33.5 -2.2h0M33.5 47.8h0M15.1 14.0h0M9.5 29.7h0M37.4 24.7h0M28.2 18.9h0M43.3 8.7h0M39.6 9.5h0M3.8 31.8h0M46.2 33.7h0M28.9 26.0h0M47.0 24.5h0M19.8 9.3h0M17.8 21.1h0M7.9 10.7h0" stroke="#88c828" stroke-width="3.10" stroke-linecap="round" fill="none"/><path d="M36.6 20.4h0M45.8 38.3h0M10.5 10.8h0M1.1 20.7h0M51.1 20.7h0M25.6 18.1h0M8.9 3.9h0M41.9 6.5h0M5.3 21.7h0M7.1 46.1h0M41.1 26.6h0M31.2 9.0h0M44.6 5.5h0M29.0 -2.1h0M29.0 47.9h0M12.3 13.4h0M0.0 14.3h0M50.0 14.3h0M0.6 29.2h0M50.6 29.2h0M13.4 31.1h0M16.1 38.5h0M44.9 0.7h0M44.9 50.7h0M19.5 18.9h0M39.2 6.7h0M14.9 35.5h0M28.5 37.0h0M14.7 11.2h0M36.5 12.0h0M32.2 33.4h0" stroke="#b8d030" stroke-width="3.10" stroke-linecap="round" fill="none"/></pattern><pattern id="tbrn" x="0" y="0" width="50" height="50" patternUnits="userSpaceOnUse"><rect width="50" height="50" fill="#201408"/><path d="M16.2 7.5h0M2.4 41.1h0M52.4 41.1h0M18.3 2.9h0M18.3 52.9h0M10.7 4.3h0M3.5 4.5h0M3.0 28.3h0M53.0 28.3h0M31.5 29.1h0M28.9 19.8h0M5.9 15.4h0M9.0 29.1h0M35.6 28.2h0M10.3 34.0h0M38.9 23.3h0M18.1 12.4h0M34.9 12.2h0M15.0 24.8h0M36.5 14.4h0M5.9 20.9h0M7.6 24.4h0M-1.9 3.9h0M48.1 3.9h0M28.7 43.8h0M17.0 17.5h0M29.0 22.8h0M-2.8 23.7h0M47.2 23.7h0M3.2 36.6h0M32.4 -0.3h0M32.4 49.7h0M14.2 19.3h0M17.4 -3.0h0M17.4 47.0h0M8.4 5.9h0M10.9 14.4h0M43.6 4.0h0M27.5 35.3h0M34.1 19.0h0M7.5 8.8h0M41.6 9.1h0M0.2 20.9h0M50.2 20.9h0M30.5 15.9h0M34.5 25.8h0M32.7 37.0h0M45.0 39.0h0M39.9 19.6h0M19.7 24.1h0M10.4 8.1h0M30.0 5.1h0M43.7 30.7h0M37.5 37.0h0M1.2 -2.5h0M1.2 47.5h0M51.2 -2.5h0M51.2 47.5h0M18.1 34.5h0M42.3 25.9h0M27.1 25.1h0M11.2 40.6h0M40.3 40.9h0M24.6 36.6h0M17.2 40.4h0M45.0 42.0h0M45.5 17.2h0M4.2 33.0h0M23.9 8.9h0M20.1 -2.7h0M20.1 47.3h0M7.9 -0.3h0M7.9 49.7h0M7.6 45.2h0M7.3 41.3h0M27.4 6.5h0M40.0 36.3h0M26.3 46.7h0M-0.7 9.7h0M49.3 9.7h0M16.3 27.2h0M44.9 33.1h0M26.2 0.9h0M26.2 50.9h0M38.8 30.4h0M27.8 39.2h0M1.4 44.7h0M51.4 44.7h0M22.2 30.6h0M30.3 10.0h0M22.6 26.7h0M25.4 12.4h0M43.8 -2.9h0M43.8 47.1h0M46.1 44.6h0M3.6 12.0h0M6.1 38.8h0M12.7 6.9h0M11.0 -2.4h0M11.0 47.6h0M44.2 8.1h0M15.9 36.1h0M16.9 22.9h0M0.9 16.6h0M50.9 16.6h0M14.8 -2.0h0M14.8 48.0h0M-0.7 39.4h0M49.3 39.4h0M37.8 41.0h0M40.9 12.9h0M24.7 16.4h0M21.3 3.6h0M31.7 40.1h0M31.1 2.2h0M31.1 52.2h0M8.1 2.5h0M8.1 52.5h0M22.3 33.6h0M12.5 0.8h0M12.5 50.8h0M32.5 32.8h0M31.8 20.2h0M0.7 31.3h0M50.7 31.3h0M29.9 34.6h0M22.3 13.2h0M-1.4 27.4h0M48.6 27.4h0M13.9 32.8h0M11.6 29.3h0M40.6 0.8h0M40.6 50.8h0M6.7 18.0h0M2.5 0.9h0M2.5 50.9h0M52.5 0.9h0M52.5 50.9h0M13.3 36.5h0M23.0 42.3h0M7.4 12.7h0M34.6 31.1h0M0.6 3.0h0M50.6 3.0h0M10.9 24.5h0M23.3 5.9h0M46.8 0.9h0M46.8 50.9h0M3.8 25.3h0M18.0 30.2h0M25.4 44.3h0M43.8 19.7h0M0.2 24.6h0M50.2 24.6h0M20.3 36.4h0M35.7 45.1h0M19.5 43.5h0M31.5 45.7h0M17.2 14.9h0M36.9 32.6h0M37.5 20.6h0M37.3 10.5h0M31.5 43.1h0M4.6 44.8h0M-2.3 42.4h0M47.7 42.4h0M23.4 22.4h0M42.3 44.7h0M34.9 5.6h0M13.9 15.8h0M46.3 11.3h0M18.1 19.8h0M-1.5 15.6h0M48.5 15.6h0M11.5 11.1h0M9.2 22.5h0M10.4 17.8h0M20.5 40.6h0M30.8 13.1h0M41.3 5.4h0M-2.2 -2.3h0M-2.2 47.7h0M47.8 -2.3h0M47.8 47.7h0M39.5 45.7h0M43.1 23.0h0M27.6 16.3h0M13.2 4.2h0M13.0 22.0h0M29.2 46.5h0M20.4 18.6h0M15.6 10.2h0M27.4 3.2h0M39.8 33.2h0M43.2 -0.2h0M43.2 49.8h0M38.7 6.5h0M27.6 32.0h0M24.1 2.7h0M24.1 52.7h0M11.1 20.2h0M25.9 19.2h0M14.4 40.5h0M18.6 9.9h0M5.2 -0.4h0M5.2 49.6h0M42.8 36.9h0M8.8 37.2h0M7.2 33.3h0M46.9 36.7h0M30.7 25.4h0M15.0 2.4h0M15.0 52.4h0M34.8 42.3h0M-1.1 35.0h0M48.9 35.0h0M36.8 3.3h0M25.8 28.9h0M34.9 39.3h0M16.3 4.8h0M6.3 29.7h0M24.5 -1.3h0M24.5 48.7h0M23.5 39.2h0M-2.4 32.8h0M47.6 32.8h0M5.8 5.9h0M24.6 24.9h0M21.3 -0.0h0M21.3 50.0h0M39.6 16.5h0M5.4 2.3h0M5.4 52.3h0M21.1 15.9h0M28.3 28.9h0M0.8 7.6h0M50.8 7.6h0M34.4 16.1h0M40.9 -1.8h0M40.9 48.2h0M42.2 16.9h0M32.6 23.5h0M18.2 -0.4h0M18.2 49.6h0M14.5 44.8h0M3.6 17.8h0M20.3 6.8h0M20.0 28.1h0M3.5 21.7h0M38.1 26.0h0M15.2 30.1h0M4.4 8.5h0M10.6 43.6h0M35.2 23.1h0M35.9 -1.0h0M35.9 49.0h0M30.1 31.3h0M34.4 8.2h0M36.4 17.7h0M3.3 15.1h0M46.2 29.2h0M29.0 -0.6h0M29.0 49.4h0M40.8 28.8h0M-3.0 6.6h0M47.0 6.6h0M6.1 27.2h0M27.8 9.1h0M24.9 31.8h0M23.2 19.9h0M34.5 1.9h0M34.5 51.9h0M0.0 13.0h0M50.0 13.0h0M-2.5 20.7h0M47.5 20.7h0M15.5 12.9h0M-2.1 18.1h0M47.9 18.1h0M16.8 43.3h0M35.2 35.2h0M22.5 45.0h0M42.8 40.1h0M-0.7 -0.2h0M-0.7 49.8h0M49.3 -0.2h0M49.3 49.8h0M42.4 34.1h0M29.5 41.2h0M28.0 13.7h0M21.3 9.2h0M25.3 40.9h0M26.2 22.5h0M45.0 13.6h0M43.4 11.5h0M46.0 26.6h0M13.1 26.7h0M3.9 -2.5h0M3.9 47.5h0M29.9 37.4h0M32.2 6.6h0M0.2 42.3h0M50.2 42.3h0M38.1 0.6h0M38.1 50.6h0M20.5 21.6h0M6.1 36.0h0M19.8 32.2h0M17.9 37.8h0M1.5 34.2h0M51.5 34.2h0M43.7 28.1h0M39.8 3.2h0M0.6 36.9h0M50.6 36.9h0M-1.1 45.3h0M48.9 45.3h0M37.8 43.6h0M32.8 4.2h0" stroke="#101010" stroke-width="4.30" stroke-linecap="round" fill="none"/><path d="M10.7 4.3h0M3.5 4.5h0M10.3 34.0h0M38.9 23.3h0M17.0 17.5h0M32.4 -0.3h0M32.4 49.7h0M43.6 4.0h0M32.7 37.0h0M39.9 19.6h0M19.7 24.1h0M37.5 37.0h0M45.0 42.0h0M4.2 33.0h0M7.3 41.3h0M26.3 46.7h0M26.2 0.9h0M26.2 50.9h0M22.6 26.7h0M12.7 6.9h0M11.0 -2.4h0M11.0 47.6h0M46.8 0.9h0M46.8 50.9h0M3.8 25.3h0M0.2 24.6h0M50.2 24.6h0M20.3 36.4h0M36.9 32.6h0M37.5 20.6h0M4.6 44.8h0M20.5 40.6h0M-2.2 -2.3h0M-2.2 47.7h0M47.8 -2.3h0M47.8 47.7h0M39.5 45.7h0M27.6 16.3h0M15.6 10.2h0M27.6 32.0h0M18.6 9.9h0M16.3 4.8h0M5.8 5.9h0M5.4 2.3h0M5.4 52.3h0M21.1 15.9h0M15.2 30.1h0M4.4 8.5h0M35.2 23.1h0M34.4 8.2h0M23.2 19.9h0M25.3 40.9h0M26.2 22.5h0M13.1 26.7h0M38.1 0.6h0M38.1 50.6h0M19.8 32.2h0M43.7 28.1h0M39.8 3.2h0" stroke="#80d040" stroke-width="3.10" stroke-linecap="round" fill="none"/><path d="M16.2 7.5h0M5.9 15.4h0M9.0 29.1h0M-2.8 23.7h0M47.2 23.7h0M14.2 19.3h0M10.9 14.4h0M45.0 39.0h0M27.1 25.1h0M40.3 40.9h0M17.2 40.4h0M45.5 17.2h0M23.9 8.9h0M20.1 -2.7h0M20.1 47.3h0M7.6 45.2h0M6.1 38.8h0M44.2 8.1h0M16.9 22.9h0M37.8 41.0h0M31.1 2.2h0M31.1 52.2h0M12.5 0.8h0M12.5 50.8h0M40.6 0.8h0M40.6 50.8h0M7.4 12.7h0M10.9 24.5h0M18.0 30.2h0M25.4 44.3h0M17.2 14.9h0M9.2 22.5h0M30.8 13.1h0M41.3 5.4h0M24.1 2.7h0M24.1 52.7h0M5.2 -0.4h0M5.2 49.6h0M15.0 2.4h0M15.0 52.4h0M34.8 42.3h0M34.9 39.3h0M6.3 29.7h0M21.3 -0.0h0M21.3 50.0h0M38.1 26.0h0M40.8 28.8h0M-2.5 20.7h0M47.5 20.7h0M16.8 43.3h0M42.8 40.1h0M42.4 34.1h0M20.5 21.6h0" stroke="#904010" stroke-width="3.10" stroke-linecap="round" fill="none"/><path d="M3.0 28.3h0M53.0 28.3h0M28.9 19.8h0M18.1 12.4h0M34.1 19.0h0M7.5 8.8h0M30.5 15.9h0M43.7 30.7h0M42.3 25.9h0M11.2 40.6h0M-0.7 9.7h0M49.3 9.7h0M16.3 27.2h0M38.8 30.4h0M46.1 44.6h0M40.9 12.9h0M8.1 2.5h0M8.1 52.5h0M-1.4 27.4h0M48.6 27.4h0M13.9 32.8h0M13.3 36.5h0M34.6 31.1h0M43.8 19.7h0M31.5 43.1h0M13.9 15.8h0M-1.5 15.6h0M48.5 15.6h0M13.0 22.0h0M39.8 33.2h0M11.1 20.2h0M14.4 40.5h0M46.9 36.7h0M25.8 28.9h0M23.5 39.2h0M42.2 16.9h0M18.2 -0.4h0M18.2 49.6h0M3.6 17.8h0M30.1 31.3h0M6.1 27.2h0M-2.1 18.1h0M47.9 18.1h0M45.0 13.6h0M0.2 42.3h0M50.2 42.3h0M17.9 37.8h0M0.6 36.9h0M50.6 36.9h0M37.8 43.6h0" stroke="#a06010" stroke-width="3.10" stroke-linecap="round" fill="none"/><path d="M2.4 41.1h0M52.4 41.1h0M31.5 29.1h0M36.5 14.4h0M7.6 24.4h0M29.0 22.8h0M8.4 5.9h0M18.1 34.5h0M24.6 36.6h0M7.9 -0.3h0M7.9 49.7h0M27.4 6.5h0M40.0 36.3h0M27.8 39.2h0M1.4 44.7h0M51.4 44.7h0M3.6 12.0h0M15.9 36.1h0M14.8 -2.0h0M14.8 48.0h0M-0.7 39.4h0M49.3 39.4h0M21.3 3.6h0M31.7 40.1h0M29.9 34.6h0M6.7 18.0h0M23.0 42.3h0M19.5 43.5h0M-2.3 42.4h0M47.7 42.4h0M23.4 22.4h0M42.3 44.7h0M34.9 5.6h0M46.3 11.3h0M18.1 19.8h0M13.2 4.2h0M27.4 3.2h0M38.7 6.5h0M25.9 19.2h0M8.8 37.2h0M30.7 25.4h0M-1.1 35.0h0M48.9 35.0h0M24.5 -1.3h0M24.5 48.7h0M28.3 28.9h0M14.5 44.8h0M10.6 43.6h0M-3.0 6.6h0M47.0 6.6h0M29.5 41.2h0M28.0 13.7h0M46.0 26.6h0M6.1 36.0h0M-1.1 45.3h0M48.9 45.3h0" stroke="#c08020" stroke-width="3.10" stroke-linecap="round" fill="none"/><path d="M18.3 2.9h0M18.3 52.9h0M35.6 28.2h0M34.9 12.2h0M-1.9 3.9h0M48.1 3.9h0M34.5 25.8h0M30.0 5.1h0M1.2 -2.5h0M1.2 47.5h0M51.2 -2.5h0M51.2 47.5h0M44.9 33.1h0M22.2 30.6h0M25.4 12.4h0M0.9 16.6h0M50.9 16.6h0M32.5 32.8h0M11.6 29.3h0M2.5 0.9h0M2.5 50.9h0M52.5 0.9h0M52.5 50.9h0M23.3 5.9h0M31.5 45.7h0M43.1 23.0h0M20.4 18.6h0M36.8 3.3h0M24.6 24.9h0M20.3 6.8h0M3.5 21.7h0M35.9 -1.0h0M35.9 49.0h0M27.8 9.1h0M34.5 1.9h0M34.5 51.9h0M0.0 13.0h0M50.0 13.0h0M15.5 12.9h0M35.2 35.2h0M21.3 9.2h0M29.9 37.4h0M32.2 6.6h0M1.5 34.2h0M51.5 34.2h0" stroke="#c8c030" stroke-width="3.10" stroke-linecap="round" fill="none"/><path d="M15.0 24.8h0M5.9 20.9h0M28.7 43.8h0M3.2 36.6h0M17.4 -3.0h0M17.4 47.0h0M27.5 35.3h0M41.6 9.1h0M0.2 20.9h0M50.2 20.9h0M10.4 8.1h0M30.3 10.0h0M43.8 -2.9h0M43.8 47.1h0M24.7 16.4h0M22.3 33.6h0M31.8 20.2h0M0.7 31.3h0M50.7 31.3h0M22.3 13.2h0M0.6 3.0h0M50.6 3.0h0M35.7 45.1h0M37.3 10.5h0M11.5 11.1h0M10.4 17.8h0M29.2 46.5h0M43.2 -0.2h0M43.2 49.8h0M42.8 36.9h0M7.2 33.3h0M-2.4 32.8h0M47.6 32.8h0M39.6 16.5h0M0.8 7.6h0M50.8 7.6h0M34.4 16.1h0M40.9 -1.8h0M40.9 48.2h0M32.6 23.5h0M20.0 28.1h0M36.4 17.7h0M3.3 15.1h0M46.2 29.2h0M29.0 -0.6h0M29.0 49.4h0M24.9 31.8h0M22.5 45.0h0M-0.7 -0.2h0M-0.7 49.8h0M49.3 -0.2h0M49.3 49.8h0M43.4 11.5h0M3.9 -2.5h0M3.9 47.5h0M32.8 4.2h0" stroke="#d0a030" stroke-width="3.10" stroke-linecap="round" fill="none"/></pattern><pattern id="tblu" x="0" y="0" width="50" height="50" patternUnits="userSpaceOnUse"><rect width="50" height="50" fill="#101040"/><path d="M23.2 18.7h0M9.3 33.8h0M25.1 44.9h0M16.7 46.8h0M2.0 19.0h0M52.0 19.0h0M-2.7 -2.4h0M-2.7 47.6h0M47.3 -2.4h0M47.3 47.6h0M7.9 11.9h0M6.6 43.6h0M3.2 34.4h0M44.4 45.9h0M33.7 36.3h0M44.5 38.6h0M19.8 17.1h0M10.0 44.3h0M24.6 1.2h0M24.6 51.2h0M36.8 42.5h0M0.2 38.2h0M50.2 38.2h0M44.8 10.2h0M44.6 6.7h0M25.0 28.6h0M46.0 21.0h0M9.6 38.2h0M29.0 8.6h0M36.0 2.1h0M36.0 52.1h0M27.8 30.3h0M37.3 36.8h0M-0.1 6.1h0M49.9 6.1h0M20.1 45.3h0M30.6 2.2h0M30.6 52.2h0M42.3 26.1h0M38.7 4.3h0M18.3 10.5h0M-0.7 28.7h0M49.3 28.7h0M18.9 30.4h0M21.7 10.7h0M13.5 40.7h0M31.5 5.2h0M35.5 12.4h0M4.8 38.0h0M18.6 43.0h0M7.0 14.5h0M42.2 12.9h0M47.0 40.5h0M3.0 10.4h0M14.7 0.7h0M14.7 50.7h0M14.3 24.0h0M6.9 4.3h0M14.8 5.9h0M22.6 35.2h0M29.4 40.1h0M5.0 2.4h0M5.0 52.4h0M41.0 8.1h0M27.3 4.2h0M24.1 -2.7h0M24.1 47.3h0M21.8 15.4h0M27.1 15.0h0M11.2 6.9h0M35.0 22.7h0M28.7 24.8h0M1.8 29.8h0M51.8 29.8h0M31.2 27.4h0M16.7 39.1h0M23.2 22.5h0M41.6 5.3h0M6.5 -1.6h0M6.5 48.4h0M18.6 37.1h0M31.3 10.0h0M38.2 34.1h0M2.9 13.8h0M52.9 13.8h0M20.2 0.4h0M20.2 50.4h0M15.9 12.4h0M16.1 28.2h0M21.5 3.9h0M23.1 30.5h0M16.5 2.9h0M16.5 52.9h0M8.5 27.2h0M10.6 18.2h0M-2.8 4.3h0M47.2 4.3h0M-3.0 33.5h0M47.0 33.5h0M43.3 16.2h0M0.2 45.9h0M50.2 45.9h0M7.5 8.2h0M25.5 39.5h0M32.5 19.8h0M25.3 6.7h0M25.8 23.9h0M26.9 -2.5h0M26.9 47.5h0M37.4 6.7h0M10.8 10.1h0M28.4 0.5h0M28.4 50.5h0M3.0 40.4h0M36.3 9.5h0M4.2 17.7h0M38.4 -1.5h0M38.4 48.5h0M33.1 16.8h0M-1.3 8.7h0M48.7 8.7h0M35.8 29.3h0M15.7 41.9h0M35.5 31.9h0M1.7 -0.0h0M1.7 50.0h0M51.7 -0.0h0M51.7 50.0h0M-1.8 26.0h0M48.2 26.0h0M32.3 23.2h0M10.3 0.8h0M10.3 50.8h0M13.6 -2.8h0M13.6 47.2h0M42.0 35.5h0M20.4 21.3h0M25.4 42.3h0M25.8 20.4h0M-1.3 15.6h0M48.7 15.6h0M-1.1 21.2h0M48.9 21.2h0M12.1 35.5h0M5.9 28.9h0M25.3 34.5h0M43.0 21.1h0M9.9 23.6h0M43.0 2.9h0M43.0 52.9h0M4.4 20.4h0M13.2 27.8h0M16.3 35.0h0M-2.0 12.8h0M48.0 12.8h0M22.6 40.7h0M-2.6 0.4h0M-2.6 50.4h0M47.4 0.4h0M47.4 50.4h0M38.9 22.3h0M40.4 19.4h0M33.9 27.2h0M8.0 41.0h0M40.3 0.9h0M40.3 50.9h0M32.3 7.5h0M33.1 29.6h0M39.3 27.5h0M38.4 12.9h0M34.9 46.5h0M23.5 13.6h0M32.0 41.5h0M40.8 31.6h0M43.8 33.3h0M46.2 14.7h0M1.0 23.7h0M51.0 23.7h0M18.2 19.9h0M27.7 36.7h0M20.8 32.7h0M-0.4 42.0h0M49.6 42.0h0M29.7 15.5h0M9.1 3.0h0M9.1 53.0h0M42.6 -1.8h0M42.6 48.2h0M11.6 32.2h0M3.1 43.2h0M18.2 14.0h0M41.4 23.3h0M19.2 7.4h0M0.3 2.4h0M0.3 52.4h0M50.3 2.4h0M50.3 52.4h0M17.0 16.6h0M30.1 45.4h0M15.9 31.3h0M45.4 35.5h0M36.4 20.5h0M7.7 31.2h0M4.6 45.4h0M11.2 -1.7h0M11.2 48.3h0M4.6 22.9h0M0.3 10.9h0M50.3 10.9h0M21.8 37.7h0M20.0 25.3h0M31.5 38.4h0M32.2 32.1h0M10.4 21.0h0M33.7 3.2h0M12.0 15.1h0M37.2 25.7h0M4.4 -0.1h0M4.4 49.9h0M11.8 3.9h0M38.3 39.3h0M4.4 31.3h0M8.0 20.1h0M14.0 37.9h0M42.9 28.7h0M37.7 17.3h0M13.7 18.8h0M21.8 6.8h0M23.6 25.2h0M17.8 24.0h0M40.2 43.1h0M28.7 19.2h0M28.2 11.1h0M25.4 31.6h0M42.1 41.4h0M32.3 -0.3h0M32.3 49.7h0M21.1 27.9h0M34.6 40.9h0M15.8 44.4h0M-0.1 35.5h0M49.9 35.5h0M35.5 34.5h0M39.8 45.6h0M24.2 9.9h0M40.3 37.5h0M12.5 12.3h0M29.8 21.9h0M14.5 9.5h0M3.1 25.0h0M45.3 27.5h0M46.7 43.7h0M2.0 16.1h0M52.0 16.1h0M12.6 43.9h0M27.7 33.3h0M2.2 7.3h0M52.2 7.3h0M7.3 22.9h0M39.4 15.3h0M6.1 25.4h0M7.2 36.0h0M10.9 41.1h0M17.4 -0.5h0M17.4 49.5h0M5.0 7.4h0M35.9 -1.1h0M35.9 48.9h0M46.4 18.2h0M10.4 29.4h0M28.7 42.7h0M44.4 24.0h0M38.1 30.6h0M2.5 -2.4h0M2.5 47.6h0M52.5 -2.4h0M52.5 47.6h0M-2.4 37.7h0M47.6 37.7h0M19.3 40.4h0M45.8 31.2h0M5.1 11.9h0M31.4 12.9h0M44.5 0.3h0M44.5 50.3h0M30.3 34.6h0M44.3 42.7h0M39.4 10.1h0M35.6 15.6h0M3.9 5.0h0M8.2 17.4h0M35.0 6.0h0M1.4 26.9h0M51.4 26.9h0M13.2 21.7h0M-0.0 33.0h0M50.0 33.0h0M33.3 44.2h0M18.0 32.7h0M25.5 17.4h0M29.8 -1.7h0M29.8 48.3h0M21.4 -2.3h0M21.4 47.7h0M11.8 25.4h0M26.7 26.8h0M29.0 6.0h0M15.5 20.5h0M-0.9 18.6h0M49.1 18.6h0M22.0 43.4h0M25.7 12.1h0M35.2 38.4h0M8.7 46.8h0M19.3 2.8h0M19.3 52.8h0M-2.9 23.5h0M47.1 23.5h0M5.8 33.7h0M30.5 30.2h0M14.6 15.8h0M18.5 27.4h0M18.0 5.1h0M24.2 3.7h0M13.9 33.3h0M9.9 13.5h0M20.5 13.1h0" stroke="#101010" stroke-width="4.30" stroke-linecap="round" fill="none"/><path d="M25.1 44.9h0M7.9 11.9h0M19.8 17.1h0M44.8 10.2h0M44.6 6.7h0M-0.7 28.7h0M49.3 28.7h0M18.9 30.4h0M31.5 5.2h0M42.2 12.9h0M11.2 6.9h0M16.7 39.1h0M6.5 -1.6h0M6.5 48.4h0M38.2 34.1h0M16.5 2.9h0M16.5 52.9h0M7.5 8.2h0M26.9 -2.5h0M26.9 47.5h0M36.3 9.5h0M-1.3 8.7h0M48.7 8.7h0M32.3 23.2h0M-1.1 21.2h0M48.9 21.2h0M16.3 35.0h0M-2.0 12.8h0M48.0 12.8h0M8.0 41.0h0M33.1 29.6h0M38.4 12.9h0M23.5 13.6h0M-0.4 42.0h0M49.6 42.0h0M9.1 3.0h0M9.1 53.0h0M18.2 14.0h0M17.0 16.6h0M36.4 20.5h0M7.7 31.2h0M0.3 10.9h0M50.3 10.9h0M37.2 25.7h0M13.7 18.8h0M23.6 25.2h0M28.2 11.1h0M25.4 31.6h0M21.1 27.9h0M39.8 45.6h0M14.5 9.5h0M45.3 27.5h0M46.7 43.7h0M7.3 22.9h0M39.4 15.3h0M5.1 11.9h0M13.2 21.7h0M11.8 25.4h0M15.5 20.5h0M30.5 30.2h0" stroke="#2030c0" stroke-width="3.10" stroke-linecap="round" fill="none"/><path d="M23.2 18.7h0M44.4 45.9h0M44.5 38.6h0M0.2 38.2h0M50.2 38.2h0M27.8 30.3h0M20.1 45.3h0M18.3 10.5h0M41.0 8.1h0M28.7 24.8h0M23.2 22.5h0M8.5 27.2h0M10.6 18.2h0M0.2 45.9h0M50.2 45.9h0M25.8 23.9h0M4.2 17.7h0M38.4 -1.5h0M38.4 48.5h0M33.1 16.8h0M35.8 29.3h0M1.7 -0.0h0M1.7 50.0h0M51.7 -0.0h0M51.7 50.0h0M20.4 21.3h0M25.8 20.4h0M5.9 28.9h0M25.3 34.5h0M43.0 21.1h0M38.9 22.3h0M46.2 14.7h0M1.0 23.7h0M51.0 23.7h0M30.1 45.4h0M15.9 31.3h0M4.4 31.3h0M40.2 43.1h0M34.6 40.9h0M12.6 43.9h0M5.0 7.4h0M44.4 24.0h0M39.4 10.1h0M35.6 15.6h0M25.5 17.4h0M22.0 43.4h0" stroke="#3050d8" stroke-width="3.10" stroke-linecap="round" fill="none"/><path d="M-2.7 -2.4h0M-2.7 47.6h0M47.3 -2.4h0M47.3 47.6h0M33.7 36.3h0M10.0 44.3h0M24.6 1.2h0M24.6 51.2h0M46.0 21.0h0M21.7 10.7h0M3.0 10.4h0M14.8 5.9h0M22.6 35.2h0M35.0 22.7h0M31.2 27.4h0M18.6 37.1h0M16.1 28.2h0M-2.8 4.3h0M47.2 4.3h0M-3.0 33.5h0M47.0 33.5h0M25.5 39.5h0M37.4 6.7h0M3.0 40.4h0M10.3 0.8h0M10.3 50.8h0M-1.3 15.6h0M48.7 15.6h0M22.6 40.7h0M32.3 7.5h0M20.8 32.7h0M3.1 43.2h0M4.6 45.4h0M20.0 25.3h0M32.2 32.1h0M33.7 3.2h0M12.0 15.1h0M21.8 6.8h0M17.8 24.0h0M15.8 44.4h0M-0.1 35.5h0M49.9 35.5h0M29.8 21.9h0M17.4 -0.5h0M17.4 49.5h0M45.8 31.2h0M44.3 42.7h0M3.9 5.0h0M8.2 17.4h0M-0.0 33.0h0M50.0 33.0h0M26.7 26.8h0M-0.9 18.6h0M49.1 18.6h0M8.7 46.8h0M5.8 33.7h0M14.6 15.8h0M18.5 27.4h0M18.0 5.1h0" stroke="#30a0d0" stroke-width="3.10" stroke-linecap="round" fill="none"/><path d="M6.6 43.6h0M36.8 42.5h0M25.0 28.6h0M29.0 8.6h0M37.3 36.8h0M42.3 26.1h0M4.8 38.0h0M6.9 4.3h0M5.0 2.4h0M5.0 52.4h0M27.3 4.2h0M24.1 -2.7h0M24.1 47.3h0M21.8 15.4h0M1.8 29.8h0M51.8 29.8h0M15.9 12.4h0M23.1 30.5h0M43.3 16.2h0M32.5 19.8h0M28.4 0.5h0M28.4 50.5h0M15.7 41.9h0M35.5 31.9h0M12.1 35.5h0M43.0 2.9h0M43.0 52.9h0M40.4 19.4h0M34.9 46.5h0M32.0 41.5h0M29.7 15.5h0M42.6 -1.8h0M42.6 48.2h0M19.2 7.4h0M45.4 35.5h0M4.6 22.9h0M21.8 37.7h0M31.5 38.4h0M10.4 21.0h0M11.8 3.9h0M8.0 20.1h0M42.9 28.7h0M37.7 17.3h0M3.1 25.0h0M2.2 7.3h0M52.2 7.3h0M7.2 36.0h0M10.9 41.1h0M28.7 42.7h0M19.3 40.4h0M30.3 34.6h0M35.0 6.0h0M1.4 26.9h0M51.4 26.9h0M25.7 12.1h0M35.2 38.4h0M19.3 2.8h0M19.3 52.8h0" stroke="#50c060" stroke-width="3.10" stroke-linecap="round" fill="none"/><path d="M9.3 33.8h0M36.0 2.1h0M36.0 52.1h0M30.6 2.2h0M30.6 52.2h0M38.7 4.3h0M13.5 40.7h0M18.6 43.0h0M47.0 40.5h0M14.7 0.7h0M14.7 50.7h0M14.3 24.0h0M41.6 5.3h0M2.9 13.8h0M52.9 13.8h0M20.2 0.4h0M20.2 50.4h0M21.5 3.9h0M-1.8 26.0h0M48.2 26.0h0M13.6 -2.8h0M13.6 47.2h0M42.0 35.5h0M25.4 42.3h0M13.2 27.8h0M-2.6 0.4h0M-2.6 50.4h0M47.4 0.4h0M47.4 50.4h0M39.3 27.5h0M18.2 19.9h0M11.2 -1.7h0M11.2 48.3h0M4.4 -0.1h0M4.4 49.9h0M38.3 39.3h0M14.0 37.9h0M28.7 19.2h0M35.5 34.5h0M24.2 9.9h0M40.3 37.5h0M2.0 16.1h0M52.0 16.1h0M27.7 33.3h0M35.9 -1.1h0M35.9 48.9h0M46.4 18.2h0M38.1 30.6h0M-2.4 37.7h0M47.6 37.7h0M44.5 0.3h0M44.5 50.3h0M33.3 44.2h0M18.0 32.7h0M29.8 -1.7h0M29.8 48.3h0M21.4 -2.3h0M21.4 47.7h0M29.0 6.0h0M-2.9 23.5h0M47.1 23.5h0M24.2 3.7h0M9.9 13.5h0M20.5 13.1h0" stroke="#7030c8" stroke-width="3.10" stroke-linecap="round" fill="none"/><path d="M16.7 46.8h0M2.0 19.0h0M52.0 19.0h0M3.2 34.4h0M9.6 38.2h0M-0.1 6.1h0M49.9 6.1h0M35.5 12.4h0M7.0 14.5h0M29.4 40.1h0M27.1 15.0h0M31.3 10.0h0M25.3 6.7h0M10.8 10.1h0M9.9 23.6h0M4.4 20.4h0M33.9 27.2h0M40.3 0.9h0M40.3 50.9h0M40.8 31.6h0M43.8 33.3h0M27.7 36.7h0M11.6 32.2h0M41.4 23.3h0M0.3 2.4h0M0.3 52.4h0M50.3 2.4h0M50.3 52.4h0M42.1 41.4h0M32.3 -0.3h0M32.3 49.7h0M12.5 12.3h0M6.1 25.4h0M10.4 29.4h0M2.5 -2.4h0M2.5 47.6h0M52.5 -2.4h0M52.5 47.6h0M31.4 12.9h0M13.9 33.3h0" stroke="#9a30d8" stroke-width="3.10" stroke-linecap="round" fill="none"/></pattern><pattern id="tcrm" x="0" y="0" width="50" height="50" patternUnits="userSpaceOnUse"><rect width="50" height="50" fill="#f2ebcc"/><path d="M22.6 28.0h0M22.6 42.8h0M9.2 25.6h0M30.7 9.3h0M15.2 4.5h0M31.7 29.8h0M-1.8 32.7h0M48.2 32.7h0M41.6 3.2h0M9.5 12.1h0M38.9 16.3h0M42.1 26.0h0M14.7 0.2h0M14.7 50.2h0M22.9 13.9h0M-0.2 42.0h0M49.8 42.0h0M12.7 37.9h0M38.3 20.0h0M19.3 -2.1h0M19.3 47.9h0M0.0 10.5h0M50.0 10.5h0M23.5 -1.0h0M23.5 49.0h0M9.9 33.7h0M4.4 16.6h0M37.9 5.9h0M35.4 0.5h0M35.4 50.5h0M39.9 8.9h0M-0.7 38.5h0M49.3 38.5h0M32.2 5.8h0M-0.5 0.0h0M-0.5 50.0h0M49.5 0.0h0M49.5 50.0h0M15.2 44.2h0M9.4 -0.2h0M9.4 49.8h0M16.4 14.8h0M3.7 10.4h0M12.2 30.1h0M29.4 41.6h0M43.3 9.1h0M15.5 11.4h0M12.5 9.5h0M34.3 19.4h0M30.2 21.1h0M5.5 25.6h0M12.8 41.2h0M24.5 26.0h0M-1.1 6.3h0M48.9 6.3h0M30.7 14.0h0M20.6 12.5h0M8.8 18.4h0M6.9 22.5h0M32.8 34.6h0M-2.7 29.5h0M47.3 29.5h0M23.7 17.9h0M31.8 24.1h0M3.6 22.7h0M36.9 45.0h0M-1.8 17.1h0M48.2 17.1h0M34.3 45.0h0M-2.8 1.5h0M-2.8 51.5h0M47.2 1.5h0M47.2 51.5h0M28.6 31.2h0M19.0 0.6h0M19.0 50.6h0M4.0 32.0h0M44.0 36.4h0M46.7 34.7h0M4.2 37.5h0M1.1 -2.1h0M1.1 47.9h0M51.1 -2.1h0M51.1 47.9h0M24.9 30.7h0M15.1 33.9h0M25.9 37.7h0M44.6 16.3h0M40.2 37.7h0M44.0 19.2h0M46.0 10.5h0M-2.5 13.8h0M47.5 13.8h0M46.3 41.5h0M-0.9 22.6h0M49.1 22.6h0M41.4 13.9h0M2.1 35.4h0M52.1 35.4h0M17.7 32.5h0M7.0 2.3h0M7.0 52.3h0M5.8 5.5h0M32.8 40.4h0M34.2 10.0h0M37.8 26.7h0M39.6 45.3h0M20.5 44.6h0M31.3 45.5h0M25.1 41.0h0M40.9 32.1h0M6.2 12.1h0M24.4 1.4h0M24.4 51.4h0M21.4 1.8h0M21.4 51.8h0M16.8 39.4h0M45.0 25.9h0" stroke="#404020" stroke-width="4.60" stroke-linecap="round" fill="none"/><path d="M22.6 28.0h0M30.7 9.3h0M31.7 29.8h0M23.5 -1.0h0M23.5 49.0h0M4.4 16.6h0M35.4 0.5h0M35.4 50.5h0M-0.7 38.5h0M49.3 38.5h0M32.2 5.8h0M34.3 19.4h0M-1.1 6.3h0M48.9 6.3h0M34.3 45.0h0M-2.8 1.5h0M-2.8 51.5h0M47.2 1.5h0M47.2 51.5h0M28.6 31.2h0M44.0 36.4h0M46.7 34.7h0M24.9 30.7h0M46.3 41.5h0M34.2 10.0h0M20.5 44.6h0M31.3 45.5h0M6.2 12.1h0" stroke="#40b0c0" stroke-width="3.60" stroke-linecap="round" fill="none"/><path d="M9.2 25.6h0M15.2 4.5h0M42.1 26.0h0M-0.2 42.0h0M49.8 42.0h0M19.3 -2.1h0M19.3 47.9h0M3.7 10.4h0M12.5 9.5h0M24.5 26.0h0M31.8 24.1h0M36.9 45.0h0M44.6 16.3h0M7.0 2.3h0M7.0 52.3h0M40.9 32.1h0M45.0 25.9h0" stroke="#60b060" stroke-width="3.60" stroke-linecap="round" fill="none"/><path d="M22.6 42.8h0M37.9 5.9h0M15.2 44.2h0M29.4 41.6h0M43.3 9.1h0M30.7 14.0h0M15.1 33.9h0M40.2 37.7h0M46.0 10.5h0M-2.5 13.8h0M47.5 13.8h0M16.8 39.4h0" stroke="#80c050" stroke-width="3.60" stroke-linecap="round" fill="none"/><path d="M38.3 20.0h0M9.9 33.7h0M12.2 30.1h0M5.5 25.6h0M6.9 22.5h0M23.7 17.9h0M3.6 22.7h0M4.0 32.0h0M25.9 37.7h0M25.1 41.0h0" stroke="#c09030" stroke-width="3.60" stroke-linecap="round" fill="none"/><path d="M41.6 3.2h0M9.5 12.1h0M14.7 0.2h0M14.7 50.2h0M0.0 10.5h0M50.0 10.5h0M16.4 14.8h0M30.2 21.1h0M20.6 12.5h0M-2.7 29.5h0M47.3 29.5h0M-1.8 17.1h0M48.2 17.1h0M19.0 0.6h0M19.0 50.6h0M4.2 37.5h0M1.1 -2.1h0M1.1 47.9h0M51.1 -2.1h0M51.1 47.9h0M-0.9 22.6h0M49.1 22.6h0M32.8 40.4h0M37.8 26.7h0M39.6 45.3h0M24.4 1.4h0M24.4 51.4h0" stroke="#c8c040" stroke-width="3.60" stroke-linecap="round" fill="none"/><path d="M-1.8 32.7h0M48.2 32.7h0M38.9 16.3h0M22.9 13.9h0M12.7 37.9h0M39.9 8.9h0M-0.5 0.0h0M-0.5 50.0h0M49.5 0.0h0M49.5 50.0h0M9.4 -0.2h0M9.4 49.8h0M15.5 11.4h0M12.8 41.2h0M8.8 18.4h0M32.8 34.6h0M44.0 19.2h0M41.4 13.9h0M2.1 35.4h0M52.1 35.4h0M17.7 32.5h0M5.8 5.5h0M21.4 1.8h0M21.4 51.8h0" stroke="#d0a040" stroke-width="3.60" stroke-linecap="round" fill="none"/></pattern><pattern id="tdrk" x="0" y="0" width="50" height="50" patternUnits="userSpaceOnUse"><rect width="50" height="50" fill="#101810"/><path d="M13.0 34.3h0M40.1 44.5h0M11.5 7.4h0M32.0 9.4h0M26.6 10.7h0M1.5 6.3h0M51.5 6.3h0M30.4 0.7h0M30.4 50.7h0M41.7 4.2h0M41.3 37.2h0M39.7 12.8h0M24.3 37.8h0M-0.9 33.5h0M49.1 33.5h0M31.9 32.8h0M41.0 39.9h0M34.5 27.7h0M-0.6 22.0h0M49.4 22.0h0M22.2 8.8h0M9.0 17.8h0M23.0 30.3h0M44.5 28.9h0M11.8 11.8h0M35.1 6.6h0M32.6 -2.3h0M32.6 47.7h0M43.4 11.2h0M20.7 43.4h0M10.2 42.7h0M26.0 32.8h0M30.2 36.1h0M43.1 2.1h0M43.1 52.1h0M29.6 18.0h0M9.6 39.4h0M5.6 11.3h0M40.4 34.8h0M41.3 32.3h0M0.1 -0.1h0M0.1 49.9h0M50.1 -0.1h0M50.1 49.9h0M46.9 26.1h0M0.3 16.7h0M50.3 16.7h0M28.0 26.6h0M39.9 18.8h0M45.5 36.9h0M10.8 21.2h0M17.8 12.2h0M21.3 15.8h0M4.3 37.9h0M46.1 32.7h0M9.5 24.0h0M19.5 3.1h0M15.2 19.4h0M17.4 5.0h0M26.8 6.5h0M16.1 44.6h0M37.0 45.1h0M4.5 46.6h0M17.2 40.1h0M2.3 11.9h0M52.3 11.9h0M26.0 46.0h0M2.7 27.4h0M52.7 27.4h0M5.8 6.9h0M19.8 7.5h0M14.9 4.3h0M46.6 8.4h0M31.1 41.7h0M20.3 19.4h0M13.4 39.2h0M15.0 26.3h0M13.0 16.6h0M-2.3 -2.4h0M-2.3 47.6h0M47.7 -2.4h0M47.7 47.6h0M20.8 -0.3h0M20.8 49.7h0M28.9 -2.1h0M28.9 47.9h0M41.1 8.9h0M2.8 35.3h0M52.8 35.3h0M34.6 1.4h0M34.6 51.4h0M1.1 43.1h0M51.1 43.1h0M14.9 31.0h0M46.3 12.9h0M28.6 44.6h0M26.2 -0.4h0M26.2 49.6h0M46.6 40.8h0M34.1 36.0h0M8.9 5.2h0M43.8 19.1h0M25.0 28.6h0M26.4 14.0h0M34.2 18.8h0M19.5 24.1h0M0.2 26.6h0M50.2 26.6h0M42.0 26.5h0M10.2 -1.3h0M10.2 48.7h0M37.5 32.8h0M15.7 -0.4h0M15.7 49.6h0M11.6 28.3h0M35.0 39.9h0M7.8 2.7h0M7.8 52.7h0M2.6 41.0h0M52.6 41.0h0M8.7 35.3h0M15.2 14.9h0M4.8 32.6h0M37.6 7.5h0M31.2 5.0h0M22.1 5.2h0M6.8 23.9h0M22.4 21.1h0M17.8 16.4h0M37.1 28.2h0M6.2 20.5h0M27.8 20.0h0M37.6 2.5h0M37.6 52.5h0M22.0 26.8h0M37.0 22.9h0M2.8 20.1h0M52.8 20.1h0M36.2 30.6h0M43.3 22.7h0M-1.5 29.3h0M48.5 29.3h0M41.2 -1.3h0M41.2 48.7h0M33.3 24.7h0M34.9 9.6h0M22.5 40.2h0M7.1 31.4h0M25.2 21.5h0M38.5 -2.1h0M38.5 47.9h0M0.0 39.1h0M50.0 39.1h0M6.4 16.5h0M5.0 1.8h0M5.0 51.8h0M44.5 5.5h0M0.9 30.9h0M50.9 30.9h0M36.9 17.2h0M28.7 3.7h0M5.2 26.8h0M2.3 15.3h0M52.3 15.3h0M23.6 34.2h0M15.0 36.2h0M-0.6 2.8h0M-0.6 52.8h0M49.4 2.8h0M49.4 52.8h0M0.7 45.8h0M50.7 45.8h0M36.6 12.1h0M40.8 15.7h0M6.1 44.7h0M19.9 31.6h0M18.3 9.5h0M38.5 41.1h0M23.2 17.6h0M46.7 3.2h0M30.1 23.4h0M-2.6 19.4h0M47.4 19.4h0M14.8 11.6h0M34.0 45.5h0M23.6 45.1h0M23.4 -0.4h0M23.4 49.6h0M21.4 13.0h0M33.2 14.7h0M1.9 23.2h0M51.9 23.2h0M-2.6 45.1h0M47.4 45.1h0M11.7 2.2h0M11.7 52.2h0M8.8 28.9h0M25.6 2.2h0M25.6 52.2h0M17.5 29.5h0M18.0 46.6h0M5.7 14.0h0M7.9 -0.3h0M7.9 49.7h0M26.8 23.6h0M32.7 38.1h0M44.2 -0.1h0M44.2 49.9h0M38.9 30.3h0M34.2 42.4h0M29.9 31.1h0M30.5 13.7h0M2.6 2.4h0M2.6 52.4h0M52.6 2.4h0M52.6 52.4h0M34.1 21.5h0M-3.0 15.3h0M47.0 15.3h0M24.6 42.8h0M38.2 25.6h0M17.3 34.9h0M10.4 33.1h0M29.4 7.9h0M35.3 -1.9h0M35.3 48.1h0M10.5 45.5h0M37.3 5.0h0M17.2 22.2h0M-0.8 7.7h0M49.2 7.7h0M27.5 39.8h0M3.4 8.9h0M42.7 42.0h0M46.8 23.3h0M27.2 16.6h0M14.1 9.2h0M37.0 19.9h0M7.8 10.0h0M5.3 41.7h0M30.8 26.8h0M37.0 14.6h0M26.8 36.2h0M19.1 27.5h0M18.7 37.4h0M14.5 42.4h0M4.9 29.4h0M31.5 44.8h0M24.7 4.9h0M43.5 16.1h0M12.9 22.8h0M45.3 46.9h0M11.6 14.4h0M13.6 45.1h0M-0.7 36.0h0M49.3 36.0h0M40.5 1.1h0M40.5 51.1h0M24.2 25.2h0M9.0 12.5h0M27.6 29.9h0M42.7 46.1h0M31.7 19.7h0M23.2 11.2h0M36.4 37.2h0M-0.1 14.0h0M49.9 14.0h0M29.9 38.8h0M-1.9 10.7h0M48.1 10.7h0M7.1 39.5h0M12.4 5.0h0M43.6 34.9h0M21.9 36.7h0M40.7 22.4h0M12.3 30.9h0M11.6 25.8h0M-0.9 41.4h0M49.1 41.4h0M3.1 -0.5h0M3.1 49.5h0M29.4 10.7h0M38.8 10.2h0M13.0 -0.0h0M13.0 50.0h0M3.5 44.2h0M46.7 0.5h0M46.7 50.5h0M21.2 46.4h0M11.2 36.7h0M44.8 43.9h0M3.6 17.6h0M33.2 12.1h0M44.4 39.4h0M-1.4 5.2h0M48.6 5.2h0M43.5 7.9h0M20.0 40.3h0M35.0 33.7h0M41.1 29.0h0M17.8 19.5h0M33.2 30.5h0M8.0 46.7h0M24.7 8.3h0M16.1 7.5h0M7.8 26.5h0M44.6 25.0h0M4.9 4.4h0M6.1 35.6h0M43.8 31.3h0M38.8 38.6h0M22.1 2.4h0M22.1 52.4h0M21.0 34.2h0M37.1 -0.0h0M37.1 50.0h0M17.4 32.0h0M1.0 9.7h0M51.0 9.7h0M11.7 18.9h0M42.4 13.8h0M24.1 15.1h0M12.6 -2.5h0M12.6 47.5h0M16.9 1.8h0M16.9 51.8h0M19.2 14.3h0M27.1 42.5h0M34.3 4.0h0M29.1 33.6h0M18.1 42.6h0M4.2 24.1h0M32.0 17.1h0" stroke="#101010" stroke-width="4.30" stroke-linecap="round" fill="none"/><path d="M11.5 7.4h0M41.3 37.2h0M39.7 12.8h0M22.2 8.8h0M11.8 11.8h0M30.2 36.1h0M10.8 21.2h0M37.0 45.1h0M17.2 40.1h0M2.3 11.9h0M52.3 11.9h0M13.0 16.6h0M1.1 43.1h0M51.1 43.1h0M26.2 -0.4h0M26.2 49.6h0M46.6 40.8h0M15.7 -0.4h0M15.7 49.6h0M11.6 28.3h0M4.8 32.6h0M37.6 7.5h0M22.4 21.1h0M6.2 20.5h0M41.2 -1.3h0M41.2 48.7h0M25.2 21.5h0M2.3 15.3h0M52.3 15.3h0M-0.6 2.8h0M-0.6 52.8h0M49.4 2.8h0M49.4 52.8h0M21.4 13.0h0M17.5 29.5h0M18.0 46.6h0M34.2 42.4h0M29.9 31.1h0M30.5 13.7h0M7.8 10.0h0M19.1 27.5h0M14.5 42.4h0M43.5 16.1h0M45.3 46.9h0M-0.7 36.0h0M49.3 36.0h0M9.0 12.5h0M27.6 29.9h0M42.7 46.1h0M31.7 19.7h0M-0.1 14.0h0M49.9 14.0h0M3.5 44.2h0M21.2 46.4h0M44.8 43.9h0M7.8 26.5h0M21.0 34.2h0M12.6 -2.5h0M12.6 47.5h0M19.2 14.3h0M27.1 42.5h0" stroke="#103060" stroke-width="3.10" stroke-linecap="round" fill="none"/><path d="M24.3 37.8h0M44.5 28.9h0M9.6 39.4h0M41.3 32.3h0M4.3 37.9h0M9.5 24.0h0M19.5 3.1h0M16.1 44.6h0M5.8 6.9h0M19.8 7.5h0M15.0 26.3h0M34.6 1.4h0M34.6 51.4h0M8.9 5.2h0M43.8 19.1h0M35.0 39.9h0M7.8 2.7h0M7.8 52.7h0M27.8 20.0h0M22.0 26.8h0M37.0 22.9h0M33.3 24.7h0M38.5 -2.1h0M38.5 47.9h0M0.0 39.1h0M50.0 39.1h0M0.9 30.9h0M50.9 30.9h0M28.7 3.7h0M19.9 31.6h0M23.6 45.1h0M5.7 14.0h0M7.9 -0.3h0M7.9 49.7h0M26.8 23.6h0M2.6 2.4h0M2.6 52.4h0M52.6 2.4h0M52.6 52.4h0M-3.0 15.3h0M47.0 15.3h0M24.6 42.8h0M46.8 23.3h0M37.0 19.9h0M5.3 41.7h0M31.5 44.8h0M24.2 25.2h0M36.4 37.2h0M21.9 36.7h0M3.1 -0.5h0M3.1 49.5h0M44.4 39.4h0M43.5 7.9h0M16.1 7.5h0M18.1 42.6h0" stroke="#202020" stroke-width="3.10" stroke-linecap="round" fill="none"/><path d="M-0.9 33.5h0M49.1 33.5h0M23.0 30.3h0M35.1 6.6h0M32.6 -2.3h0M32.6 47.7h0M43.4 11.2h0M40.4 34.8h0M0.3 16.7h0M50.3 16.7h0M28.0 26.6h0M21.3 15.8h0M17.4 5.0h0M26.0 46.0h0M20.3 19.4h0M13.4 39.2h0M20.8 -0.3h0M20.8 49.7h0M28.9 -2.1h0M28.9 47.9h0M46.3 12.9h0M25.0 28.6h0M26.4 14.0h0M42.0 26.5h0M8.7 35.3h0M31.2 5.0h0M6.8 23.9h0M37.6 2.5h0M37.6 52.5h0M36.2 30.6h0M43.3 22.7h0M-1.5 29.3h0M48.5 29.3h0M6.4 16.5h0M36.9 17.2h0M23.6 34.2h0M15.0 36.2h0M23.2 17.6h0M23.4 -0.4h0M23.4 49.6h0M-2.6 45.1h0M47.4 45.1h0M25.6 2.2h0M25.6 52.2h0M44.2 -0.1h0M44.2 49.9h0M38.9 30.3h0M34.1 21.5h0M17.3 34.9h0M35.3 -1.9h0M35.3 48.1h0M-0.8 7.7h0M49.2 7.7h0M30.8 26.8h0M4.9 29.4h0M13.6 45.1h0M40.5 1.1h0M40.5 51.1h0M29.9 38.8h0M40.7 22.4h0M38.8 10.2h0M35.0 33.7h0M4.9 4.4h0M11.7 18.9h0M29.1 33.6h0M4.2 24.1h0" stroke="#2030a0" stroke-width="3.10" stroke-linecap="round" fill="none"/><path d="M32.0 9.4h0M5.6 11.3h0M0.1 -0.1h0M0.1 49.9h0M50.1 -0.1h0M50.1 49.9h0M46.9 26.1h0M15.2 19.4h0M26.8 6.5h0M4.5 46.6h0M2.7 27.4h0M52.7 27.4h0M14.9 4.3h0M46.6 8.4h0M41.1 8.9h0M34.2 18.8h0M10.2 -1.3h0M10.2 48.7h0M37.5 32.8h0M34.9 9.6h0M36.6 12.1h0M6.1 44.7h0M38.5 41.1h0M14.8 11.6h0M34.0 45.5h0M10.4 33.1h0M37.3 5.0h0M17.2 22.2h0M3.4 8.9h0M14.1 9.2h0M11.6 14.4h0M12.3 30.9h0M11.6 25.8h0M-0.9 41.4h0M49.1 41.4h0M46.7 0.5h0M46.7 50.5h0M3.6 17.6h0M33.2 12.1h0M41.1 29.0h0M8.0 46.7h0M6.1 35.6h0M38.8 38.6h0M34.3 4.0h0M32.0 17.1h0" stroke="#204020" stroke-width="3.10" stroke-linecap="round" fill="none"/><path d="M26.6 10.7h0M30.4 0.7h0M30.4 50.7h0M41.7 4.2h0M31.9 32.8h0M41.0 39.9h0M9.0 17.8h0M20.7 43.4h0M10.2 42.7h0M45.5 36.9h0M17.8 12.2h0M46.1 32.7h0M-2.3 -2.4h0M-2.3 47.6h0M47.7 -2.4h0M47.7 47.6h0M28.6 44.6h0M0.2 26.6h0M50.2 26.6h0M15.2 14.9h0M17.8 16.4h0M22.5 40.2h0M5.0 1.8h0M5.0 51.8h0M44.5 5.5h0M5.2 26.8h0M0.7 45.8h0M50.7 45.8h0M40.8 15.7h0M18.3 9.5h0M30.1 23.4h0M1.9 23.2h0M51.9 23.2h0M27.5 39.8h0M42.7 42.0h0M37.0 14.6h0M26.8 36.2h0M24.7 4.9h0M12.9 22.8h0M23.2 11.2h0M7.1 39.5h0M43.6 34.9h0M-1.4 5.2h0M48.6 5.2h0M20.0 40.3h0M17.8 19.5h0M37.1 -0.0h0M37.1 50.0h0M17.4 32.0h0M42.4 13.8h0M24.1 15.1h0M16.9 1.8h0M16.9 51.8h0" stroke="#40a040" stroke-width="3.10" stroke-linecap="round" fill="none"/><path d="M13.0 34.3h0M40.1 44.5h0M1.5 6.3h0M51.5 6.3h0M34.5 27.7h0M-0.6 22.0h0M49.4 22.0h0M26.0 32.8h0M43.1 2.1h0M43.1 52.1h0M29.6 18.0h0M39.9 18.8h0M31.1 41.7h0M2.8 35.3h0M52.8 35.3h0M14.9 31.0h0M34.1 36.0h0M19.5 24.1h0M2.6 41.0h0M52.6 41.0h0M22.1 5.2h0M37.1 28.2h0M2.8 20.1h0M52.8 20.1h0M7.1 31.4h0M46.7 3.2h0M-2.6 19.4h0M47.4 19.4h0M33.2 14.7h0M11.7 2.2h0M11.7 52.2h0M8.8 28.9h0M32.7 38.1h0M38.2 25.6h0M29.4 7.9h0M10.5 45.5h0M27.2 16.6h0M18.7 37.4h0M-1.9 10.7h0M48.1 10.7h0M12.4 5.0h0M29.4 10.7h0M13.0 -0.0h0M13.0 50.0h0M11.2 36.7h0M33.2 30.5h0M24.7 8.3h0M44.6 25.0h0M43.8 31.3h0M22.1 2.4h0M22.1 52.4h0M1.0 9.7h0M51.0 9.7h0" stroke="#a0c030" stroke-width="3.10" stroke-linecap="round" fill="none"/></pattern><pattern id="tmar" x="0" y="0" width="50" height="50" patternUnits="userSpaceOnUse"><rect width="50" height="50" fill="#400808"/><path d="M-1.7 0.6h0M-1.7 50.6h0M48.3 0.6h0M48.3 50.6h0M7.9 -0.7h0M7.9 49.3h0M2.7 40.2h0M52.7 40.2h0M42.9 -0.0h0M42.9 50.0h0M5.9 23.3h0M14.0 13.2h0M46.8 10.3h0M39.9 11.2h0M11.6 22.8h0M24.5 23.1h0M22.0 15.8h0M20.3 43.2h0M24.5 -2.7h0M24.5 47.3h0M9.8 26.7h0M14.3 24.7h0M44.6 19.8h0M23.4 42.0h0M20.1 25.1h0M27.2 25.0h0M11.8 15.6h0M43.5 39.1h0M23.7 5.8h0M19.5 0.8h0M19.5 50.8h0M46.4 37.1h0M3.2 22.5h0M38.9 29.7h0M33.9 30.5h0M16.7 32.4h0M21.7 2.8h0M21.7 52.8h0M29.8 15.6h0M40.0 44.7h0M0.8 33.5h0M50.8 33.5h0M30.8 45.4h0M7.2 12.5h0M0.1 17.8h0M50.1 17.8h0M17.0 3.0h0M17.0 53.0h0M32.1 25.3h0M-0.6 36.2h0M49.4 36.2h0M16.7 44.7h0M16.8 15.8h0M36.9 27.4h0M28.6 6.1h0M5.0 42.3h0M41.9 32.8h0M18.4 11.7h0M29.4 41.5h0M23.0 30.2h0M38.0 17.9h0M3.0 45.8h0M5.0 32.3h0M37.2 3.5h0M26.8 44.2h0M11.3 37.0h0M18.6 28.5h0M21.6 21.2h0M-1.2 12.4h0M48.8 12.4h0M32.6 1.7h0M32.6 51.7h0M30.6 23.0h0M34.8 25.1h0M-1.4 28.6h0M48.6 28.6h0M10.7 11.0h0M32.9 34.8h0M22.5 8.8h0M45.1 6.0h0M13.5 28.8h0M7.6 33.0h0M-2.2 24.1h0M47.8 24.1h0M32.8 39.6h0M14.3 20.4h0M37.1 -2.5h0M37.1 47.5h0M4.8 6.6h0M15.3 10.8h0M32.9 -2.5h0M32.9 47.5h0M29.5 29.3h0M27.7 31.4h0M33.6 8.4h0M2.2 19.4h0M52.2 19.4h0M17.2 41.0h0M26.1 13.0h0M0.4 22.0h0M50.4 22.0h0M11.1 7.2h0M25.3 19.5h0M40.3 2.4h0M40.3 52.4h0M19.9 46.7h0M-2.2 15.8h0M47.8 15.8h0M25.9 0.6h0M25.9 50.6h0M22.2 37.6h0M14.1 3.6h0M5.6 14.8h0M12.0 44.0h0M24.1 34.8h0M39.4 39.6h0M8.5 42.6h0M30.2 38.9h0M34.4 22.0h0M33.8 41.9h0M18.9 7.2h0M30.8 4.8h0M2.2 36.5h0M52.2 36.5h0M27.2 -2.4h0M27.2 47.6h0M7.5 18.8h0M31.6 13.7h0M15.5 -2.4h0M15.5 47.6h0M3.9 10.0h0M11.7 34.2h0M1.0 9.2h0M51.0 9.2h0M42.5 4.1h0M1.2 5.2h0M51.2 5.2h0M16.0 29.4h0M4.4 37.9h0M3.4 26.3h0M42.6 11.9h0M25.3 37.6h0M21.0 39.9h0M11.5 18.9h0M17.6 21.3h0M22.0 12.7h0M12.9 31.8h0M7.1 37.1h0M37.5 44.9h0M1.2 43.6h0M51.2 43.6h0M32.8 27.9h0M-2.9 41.3h0M47.1 41.3h0M7.1 45.3h0M12.0 0.7h0M12.0 50.7h0M44.8 25.7h0M3.9 1.9h0M3.9 51.9h0M37.4 31.8h0M35.3 12.6h0M43.8 42.3h0M36.2 36.9h0M38.5 24.6h0M25.4 27.2h0M42.7 22.7h0M38.4 8.8h0M30.4 18.2h0M9.9 13.8h0M43.4 9.4h0M4.0 17.1h0M6.7 8.9h0M0.6 -1.0h0M0.6 49.0h0M50.6 -1.0h0M50.6 49.0h0M19.6 37.5h0M14.9 40.0h0M26.3 10.2h0M43.5 46.9h0M22.4 44.7h0M26.0 6.9h0M37.0 6.3h0M7.2 27.8h0M43.8 35.1h0M42.0 16.3h0M15.1 7.6h0M10.0 40.5h0M46.9 -2.2h0M46.9 47.8h0M-1.8 45.2h0M48.2 45.2h0M1.7 13.4h0M51.7 13.4h0M7.5 4.5h0M3.0 29.9h0M53.0 29.9h0M19.7 32.5h0M17.4 25.0h0M45.2 23.1h0M31.0 -0.6h0M31.0 49.4h0M19.5 18.6h0M36.6 42.0h0M21.0 5.5h0M46.8 34.1h0M45.5 14.3h0M-2.3 7.2h0M47.7 7.2h0M14.7 36.7h0M39.6 21.5h0M28.8 35.9h0M37.7 14.9h0M10.9 -2.3h0M10.9 47.7h0M41.9 25.9h0M42.4 29.5h0M46.2 30.8h0M4.5 -0.7h0M4.5 49.3h0M34.0 4.6h0M38.7 -0.3h0M38.7 49.7h0M33.8 15.7h0M30.9 10.9h0M21.3 34.8h0M0.7 2.7h0M0.7 52.7h0M50.7 2.7h0M50.7 52.7h0M-2.6 20.8h0M47.4 20.8h0M35.9 9.8h0M45.4 0.3h0M45.4 50.3h0M45.4 16.9h0M26.7 4.2h0M-1.3 39.3h0M48.7 39.3h0M21.7 28.1h0M23.0 -0.8h0M23.0 49.2h0M27.1 17.2h0M39.8 35.8h0M33.8 44.6h0M33.6 18.7h0M10.4 3.8h0M-1.1 31.7h0M48.9 31.7h0M35.1 -0.2h0M35.1 49.8h0M23.2 25.7h0M8.7 22.9h0M45.1 2.8h0M45.1 52.8h0M9.7 30.9h0M-1.8 3.8h0M48.2 3.8h0M7.0 40.3h0M28.3 20.0h0M15.4 17.9h0M40.0 5.9h0M26.9 39.6h0M0.6 26.6h0M50.6 26.6h0M19.3 15.8h0M30.0 1.9h0M30.0 51.9h0M17.1 -0.1h0M17.1 49.9h0M5.6 34.9h0M41.7 20.0h0M31.1 7.4h0M42.4 6.8h0M39.4 26.9h0M8.6 1.9h0M8.6 51.9h0M34.9 33.1h0M7.7 25.2h0M28.7 8.7h0M45.9 44.3h0M16.7 38.3h0M8.5 16.1h0M17.4 35.3h0M29.3 26.4h0M14.5 0.7h0M14.5 50.7h0M28.7 12.2h0M12.3 26.5h0M30.9 31.5h0M25.6 29.7h0M40.8 14.1h0M24.2 2.7h0M24.2 52.7h0M36.8 20.9h0M-2.5 18.3h0M47.5 18.3h0M41.3 41.6h0M4.6 12.5h0M13.2 9.2h0M37.5 34.4h0M12.4 39.5h0M27.1 22.4h0M5.5 20.5h0M23.0 18.3h0M13.8 42.3h0M35.6 39.6h0M9.1 35.1h0M46.1 28.0h0M23.8 10.9h0M26.5 33.7h0M24.7 15.7h0M16.7 5.5h0M14.7 34.2h0M40.9 -2.7h0M40.9 47.3h0M13.0 46.4h0" stroke="#101010" stroke-width="3.70" stroke-linecap="round" fill="none"/><path d="M5.9 23.3h0M46.8 10.3h0M24.5 23.1h0M23.4 42.0h0M11.8 15.6h0M43.5 39.1h0M19.5 0.8h0M19.5 50.8h0M46.4 37.1h0M38.9 29.7h0M21.7 2.8h0M21.7 52.8h0M0.8 33.5h0M50.8 33.5h0M7.2 12.5h0M41.9 32.8h0M29.4 41.5h0M32.9 34.8h0M22.5 8.8h0M13.5 28.8h0M32.9 -2.5h0M32.9 47.5h0M29.5 29.3h0M19.9 46.7h0M25.9 0.6h0M25.9 50.6h0M12.0 44.0h0M8.5 42.6h0M33.8 41.9h0M11.7 34.2h0M42.5 4.1h0M1.2 5.2h0M51.2 5.2h0M42.6 11.9h0M11.5 18.9h0M22.0 12.7h0M44.8 25.7h0M43.8 42.3h0M38.5 24.6h0M26.3 10.2h0M26.0 6.9h0M3.0 29.9h0M53.0 29.9h0M19.7 32.5h0M19.5 18.6h0M45.5 14.3h0M33.8 15.7h0M30.9 10.9h0M-1.3 39.3h0M48.7 39.3h0M27.1 17.2h0M39.8 35.8h0M9.7 30.9h0M15.4 17.9h0M5.6 34.9h0M31.1 7.4h0M8.6 1.9h0M8.6 51.9h0M7.7 25.2h0M-2.5 18.3h0M47.5 18.3h0M41.3 41.6h0M23.0 18.3h0M26.5 33.7h0M13.0 46.4h0" stroke="#501008" stroke-width="3.10" stroke-linecap="round" fill="none"/><path d="M-1.7 0.6h0M-1.7 50.6h0M48.3 0.6h0M48.3 50.6h0M7.9 -0.7h0M7.9 49.3h0M20.3 43.2h0M24.5 -2.7h0M24.5 47.3h0M9.8 26.7h0M14.3 24.7h0M44.6 19.8h0M27.2 25.0h0M3.2 22.5h0M33.9 30.5h0M29.8 15.6h0M30.8 45.4h0M32.1 25.3h0M28.6 6.1h0M18.4 11.7h0M-1.2 12.4h0M48.8 12.4h0M32.6 1.7h0M32.6 51.7h0M30.6 23.0h0M34.8 25.1h0M-1.4 28.6h0M48.6 28.6h0M-2.2 24.1h0M47.8 24.1h0M27.7 31.4h0M17.2 41.0h0M26.1 13.0h0M-2.2 15.8h0M47.8 15.8h0M27.2 -2.4h0M27.2 47.6h0M3.9 10.0h0M16.0 29.4h0M25.3 37.6h0M32.8 27.9h0M7.1 45.3h0M12.0 0.7h0M12.0 50.7h0M3.9 1.9h0M3.9 51.9h0M37.4 31.8h0M36.2 36.9h0M25.4 27.2h0M43.4 9.4h0M6.7 8.9h0M19.6 37.5h0M37.0 6.3h0M7.2 27.8h0M43.8 35.1h0M15.1 7.6h0M46.9 -2.2h0M46.9 47.8h0M7.5 4.5h0M17.4 25.0h0M31.0 -0.6h0M31.0 49.4h0M36.6 42.0h0M46.8 34.1h0M37.7 14.9h0M42.4 29.5h0M38.7 -0.3h0M38.7 49.7h0M35.9 9.8h0M26.7 4.2h0M21.7 28.1h0M33.8 44.6h0M35.1 -0.2h0M35.1 49.8h0M8.7 22.9h0M45.1 2.8h0M45.1 52.8h0M-1.8 3.8h0M48.2 3.8h0M7.0 40.3h0M19.3 15.8h0M17.1 -0.1h0M17.1 49.9h0M41.7 20.0h0M42.4 6.8h0M28.7 8.7h0M45.9 44.3h0M16.7 38.3h0M29.3 26.4h0M14.5 0.7h0M14.5 50.7h0M25.6 29.7h0M40.8 14.1h0M36.8 20.9h0M4.6 12.5h0M37.5 34.4h0M12.4 39.5h0M23.8 10.9h0M14.7 34.2h0" stroke="#601010" stroke-width="3.10" stroke-linecap="round" fill="none"/><path d="M2.7 40.2h0M52.7 40.2h0M42.9 -0.0h0M42.9 50.0h0M14.0 13.2h0M20.1 25.1h0M0.1 17.8h0M50.1 17.8h0M17.0 3.0h0M17.0 53.0h0M16.7 44.7h0M38.0 17.9h0M3.0 45.8h0M5.0 32.3h0M26.8 44.2h0M11.3 37.0h0M18.6 28.5h0M45.1 6.0h0M7.6 33.0h0M4.8 6.6h0M33.6 8.4h0M11.1 7.2h0M25.3 19.5h0M40.3 2.4h0M40.3 52.4h0M5.6 14.8h0M24.1 34.8h0M18.9 7.2h0M30.8 4.8h0M2.2 36.5h0M52.2 36.5h0M31.6 13.7h0M15.5 -2.4h0M15.5 47.6h0M1.0 9.2h0M51.0 9.2h0M4.4 37.9h0M3.4 26.3h0M7.1 37.1h0M1.2 43.6h0M51.2 43.6h0M35.3 12.6h0M38.4 8.8h0M9.9 13.8h0M43.5 46.9h0M22.4 44.7h0M42.0 16.3h0M10.0 40.5h0M-1.8 45.2h0M48.2 45.2h0M1.7 13.4h0M51.7 13.4h0M45.2 23.1h0M21.0 5.5h0M39.6 21.5h0M28.8 35.9h0M4.5 -0.7h0M4.5 49.3h0M21.3 34.8h0M0.7 2.7h0M0.7 52.7h0M50.7 2.7h0M50.7 52.7h0M-2.6 20.8h0M47.4 20.8h0M45.4 0.3h0M45.4 50.3h0M10.4 3.8h0M23.2 25.7h0M28.3 20.0h0M40.0 5.9h0M26.9 39.6h0M0.6 26.6h0M50.6 26.6h0M39.4 26.9h0M34.9 33.1h0M8.5 16.1h0M24.2 2.7h0M24.2 52.7h0M35.6 39.6h0M9.1 35.1h0" stroke="#701818" stroke-width="3.10" stroke-linecap="round" fill="none"/><path d="M39.9 11.2h0M11.6 22.8h0M22.0 15.8h0M23.7 5.8h0M16.7 32.4h0M40.0 44.7h0M-0.6 36.2h0M49.4 36.2h0M16.8 15.8h0M36.9 27.4h0M5.0 42.3h0M23.0 30.2h0M37.2 3.5h0M21.6 21.2h0M10.7 11.0h0M32.8 39.6h0M14.3 20.4h0M37.1 -2.5h0M37.1 47.5h0M15.3 10.8h0M2.2 19.4h0M52.2 19.4h0M0.4 22.0h0M50.4 22.0h0M22.2 37.6h0M14.1 3.6h0M39.4 39.6h0M30.2 38.9h0M34.4 22.0h0M7.5 18.8h0M21.0 39.9h0M17.6 21.3h0M12.9 31.8h0M37.5 44.9h0M-2.9 41.3h0M47.1 41.3h0M42.7 22.7h0M30.4 18.2h0M4.0 17.1h0M0.6 -1.0h0M0.6 49.0h0M50.6 -1.0h0M50.6 49.0h0M14.9 40.0h0M-2.3 7.2h0M47.7 7.2h0M14.7 36.7h0M10.9 -2.3h0M10.9 47.7h0M41.9 25.9h0M46.2 30.8h0M34.0 4.6h0M45.4 16.9h0M23.0 -0.8h0M23.0 49.2h0M33.6 18.7h0M-1.1 31.7h0M48.9 31.7h0M30.0 1.9h0M30.0 51.9h0M17.4 35.3h0M28.7 12.2h0M12.3 26.5h0M30.9 31.5h0M13.2 9.2h0M27.1 22.4h0M5.5 20.5h0M13.8 42.3h0M46.1 28.0h0M24.7 15.7h0M16.7 5.5h0M40.9 -2.7h0M40.9 47.3h0" stroke="#802010" stroke-width="3.10" stroke-linecap="round" fill="none"/></pattern></defs>
<g clip-path="url(#cm1)">
<rect x="20" y="115" width="370" height="345" fill="url(#tpur)"/>
<defs><mask id="mkblu" maskUnits="userSpaceOnUse" x="0" y="100" width="1024" height="400"><ellipse cx="165" cy="225" rx="38" ry="32" fill="#fff" filter="url(#bl4)"/><ellipse cx="315" cy="352" rx="55" ry="22" fill="#fff" filter="url(#bl4)"/><ellipse cx="250" cy="295" rx="26" ry="26" fill="#fff" filter="url(#bl4)"/><ellipse cx="140" cy="200" rx="20" ry="22" fill="#fff" filter="url(#bl4)"/><ellipse cx="100" cy="310" rx="14" ry="14" fill="#fff" filter="url(#bl4)"/><ellipse cx="350" cy="318" rx="18" ry="22" fill="#fff" filter="url(#bl4)"/><ellipse cx="300" cy="205" rx="14" ry="8" fill="#fff" filter="url(#bl4)"/><ellipse cx="230" cy="350" rx="25" ry="8" fill="#fff" filter="url(#bl4)"/></mask></defs>
<rect x="20" y="115" width="370" height="345" fill="url(#tblu)" mask="url(#mkblu)"/>
<defs><mask id="mkgrn" maskUnits="userSpaceOnUse" x="0" y="100" width="1024" height="400"><ellipse cx="165" cy="138" rx="44" ry="18" fill="#fff" filter="url(#bl4)"/><ellipse cx="195" cy="185" rx="14" ry="12" fill="#fff" filter="url(#bl4)"/><ellipse cx="180" cy="300" rx="48" ry="36" fill="#fff" filter="url(#bl4)"/><ellipse cx="240" cy="332" rx="38" ry="20" fill="#fff" filter="url(#bl4)"/><ellipse cx="328" cy="262" rx="40" ry="44" fill="#fff" filter="url(#bl4)"/><ellipse cx="205" cy="345" rx="35" ry="12" fill="#fff" filter="url(#bl4)"/><ellipse cx="262" cy="420" rx="26" ry="42" fill="#fff" filter="url(#bl4)"/><ellipse cx="95" cy="292" rx="30" ry="22" fill="#fff" filter="url(#bl4)"/><ellipse cx="50" cy="275" rx="22" ry="12" fill="#fff" filter="url(#bl4)"/><ellipse cx="105" cy="345" rx="22" ry="12" fill="#fff" filter="url(#bl4)"/><ellipse cx="300" cy="212" rx="22" ry="12" fill="#fff" filter="url(#bl4)"/><ellipse cx="130" cy="335" rx="24" ry="16" fill="#fff" filter="url(#bl4)"/><ellipse cx="150" cy="272" rx="20" ry="12" fill="#fff" filter="url(#bl4)"/><ellipse cx="360" cy="300" rx="14" ry="22" fill="#fff" filter="url(#bl4)"/></mask></defs>
<rect x="20" y="115" width="370" height="345" fill="url(#tgrn)" mask="url(#mkgrn)"/>
<defs><mask id="mkbrn" maskUnits="userSpaceOnUse" x="0" y="100" width="1024" height="400"><ellipse cx="288" cy="245" rx="8" ry="20" fill="#fff" filter="url(#bl3)"/><ellipse cx="276" cy="272" rx="13" ry="11" fill="#fff" filter="url(#bl3)"/><ellipse cx="228" cy="375" rx="20" ry="18" fill="#fff" filter="url(#bl3)"/><ellipse cx="272" cy="430" rx="9" ry="11" fill="#fff" filter="url(#bl3)"/></mask></defs>
<rect x="20" y="115" width="370" height="345" fill="url(#tbrn)" mask="url(#mkbrn)"/>
<defs><mask id="mkdrk" maskUnits="userSpaceOnUse" x="0" y="100" width="1024" height="400"><ellipse cx="150" cy="200" rx="15" ry="12" fill="#fff" filter="url(#bl3)"/><ellipse cx="132" cy="165" rx="10" ry="15" fill="#fff" filter="url(#bl3)"/><ellipse cx="175" cy="152" rx="20" ry="8" fill="#fff" filter="url(#bl3)"/><ellipse cx="155" cy="235" rx="9" ry="7" fill="#fff" filter="url(#bl3)"/></mask></defs>
<rect x="20" y="115" width="370" height="345" fill="url(#tdrk)" mask="url(#mkdrk)"/>
<g opacity="0.92">
<defs><mask id="mkcrm" maskUnits="userSpaceOnUse" x="0" y="100" width="1024" height="400"><path d="M47,266 L92,266 L98,282 L90,296 L60,292 Z" fill="#fff" filter="url(#bl2)"/><path d="M80,325 L135,328 L132,350 L118,360 L95,348 Z" fill="#fff" filter="url(#bl2)"/><path d="M220,204 L232,200 L236,212 L228,224 L236,236 L232,252 L224,246 L222,230 L216,218 Z" fill="#fff" filter="url(#bl2)"/><ellipse cx="242" cy="392" rx="4" ry="12" fill="#fff" filter="url(#bl2)"/><ellipse cx="288" cy="215" rx="6" ry="4" fill="#fff" filter="url(#bl2)"/><ellipse cx="210" cy="290" rx="3" ry="5" fill="#fff" filter="url(#bl2)"/></mask></defs>
<rect x="20" y="115" width="370" height="345" fill="url(#tcrm)" mask="url(#mkcrm)"/>
</g>
<defs><mask id="mkmar" maskUnits="userSpaceOnUse" x="0" y="100" width="1024" height="400"><ellipse cx="244" cy="375" rx="11" ry="8" fill="#fff" filter="url(#bl2)"/></mask></defs>
<rect x="20" y="115" width="370" height="345" fill="url(#tmar)" mask="url(#mkmar)"/>
</g>
<path d="M382,302 L379,315 L377,328 L353,337 L351,342 L331,359 L313,370 L298,381 L287,396 L282,410 L284,425 L289,443 L291,454 L279,456 L256,448 L236,433 L223,412 L213,392 L198,369 L185,352 L172,341 L157,331 L139,334 L129,352 L119,360 L94,346 L78,331 L76,316 L53,293 L35,273 L26,261 L124,263" fill="none" stroke="#111" stroke-width="1.3"/>
<path d="M413.5,263.5 H528.5 V247.5 L565,274.5 L528.5,301.5 V285 H413.5 Z" fill="#49aac5" stroke="#b5dde8" stroke-width="3"/>
<defs><pattern id="tm2" x="0" y="0" width="64" height="64" patternUnits="userSpaceOnUse"><rect x="10.6" y="44.1" width="1.5" height="1.5" fill="#ffffff" opacity="0.34"/><rect x="63.3" y="30.4" width="1.5" height="1.5" fill="#b0dcff" opacity="0.35"/><rect x="50.5" y="0.9" width="1.5" height="1.5" fill="#a0ccf8" opacity="0.22"/><rect x="59.0" y="44.4" width="2.5" height="2.5" fill="#a0ccf8" opacity="0.50"/><rect x="39.4" y="2.2" width="1" height="1" fill="#ffffff" opacity="0.36"/><rect x="41.5" y="60.0" width="1" height="1" fill="#d0ecff" opacity="0.25"/><rect x="8.0" y="59.4" width="2" height="2" fill="#a0ccf8" opacity="0.25"/><rect x="25.7" y="9.7" width="1.5" height="1.5" fill="#d0ecff" opacity="0.34"/><rect x="4.8" y="12.6" width="2.5" height="2.5" fill="#d0ecff" opacity="0.24"/><rect x="35.8" y="24.8" width="2.5" height="2.5" fill="#ffffff" opacity="0.48"/><rect x="18.7" y="61.1" width="2.5" height="2.5" fill="#a0ccf8" opacity="0.30"/><rect x="24.7" y="1.7" width="2.5" height="2.5" fill="#d0ecff" opacity="0.25"/><rect x="0.2" y="4.5" width="2" height="2" fill="#b0dcff" opacity="0.37"/><rect x="35.6" y="39.8" width="2" height="2" fill="#b0dcff" opacity="0.40"/><rect x="53.4" y="21.3" width="1.5" height="1.5" fill="#ffffff" opacity="0.27"/><rect x="4.2" y="52.1" width="1" height="1" fill="#a0ccf8" opacity="0.31"/><rect x="43.3" y="57.5" width="1.5" height="1.5" fill="#b0dcff" opacity="0.32"/><rect x="61.5" y="37.8" width="2.5" height="2.5" fill="#ffffff" opacity="0.35"/><rect x="42.7" y="59.9" width="1" height="1" fill="#b0dcff" opacity="0.25"/><rect x="28.1" y="26.1" width="2" height="2" fill="#a0ccf8" opacity="0.22"/><rect x="3.3" y="16.5" width="1.5" height="1.5" fill="#ffffff" opacity="0.21"/><rect x="10.9" y="4.4" width="1.5" height="1.5" fill="#ffffff" opacity="0.39"/><rect x="62.9" y="47.7" width="1.5" height="1.5" fill="#a0ccf8" opacity="0.21"/><rect x="61.4" y="33.6" width="1.5" height="1.5" fill="#a0ccf8" opacity="0.21"/><rect x="57.6" y="23.4" width="2.5" height="2.5" fill="#b0dcff" opacity="0.46"/><rect x="31.0" y="57.8" width="2" height="2" fill="#a0ccf8" opacity="0.29"/><rect x="8.9" y="46.1" width="1" height="1" fill="#a0ccf8" opacity="0.41"/><rect x="16.9" y="20.9" width="2.5" height="2.5" fill="#b0dcff" opacity="0.46"/><rect x="16.5" y="26.0" width="1" height="1" fill="#b0dcff" opacity="0.24"/><rect x="25.4" y="11.9" width="1" height="1" fill="#a0ccf8" opacity="0.44"/><rect x="55.5" y="41.9" width="2" height="2" fill="#b0dcff" opacity="0.29"/><rect x="25.4" y="56.8" width="2.5" height="2.5" fill="#b0dcff" opacity="0.25"/><rect x="12.9" y="47.6" width="1" height="1" fill="#d0ecff" opacity="0.38"/><rect x="50.6" y="0.5" width="2.5" height="2.5" fill="#a0ccf8" opacity="0.46"/><rect x="48.9" y="11.2" width="2" height="2" fill="#b0dcff" opacity="0.28"/><rect x="47.7" y="15.7" width="2" height="2" fill="#b0dcff" opacity="0.29"/><rect x="52.3" y="51.4" width="1" height="1" fill="#a0ccf8" opacity="0.48"/><rect x="34.9" y="3.8" width="2" height="2" fill="#ffffff" opacity="0.49"/><rect x="18.7" y="40.0" width="2" height="2" fill="#b0dcff" opacity="0.22"/><rect x="62.5" y="22.7" width="2.5" height="2.5" fill="#ffffff" opacity="0.40"/><rect x="6.9" y="4.9" width="2.5" height="2.5" fill="#d0ecff" opacity="0.39"/><rect x="32.3" y="60.6" width="2.5" height="2.5" fill="#a0ccf8" opacity="0.34"/><rect x="56.0" y="4.5" width="2.5" height="2.5" fill="#d0ecff" opacity="0.21"/><rect x="2.7" y="17.6" width="2.5" height="2.5" fill="#a0ccf8" opacity="0.42"/><rect x="51.0" y="25.5" width="1" height="1" fill="#ffffff" opacity="0.35"/><rect x="2.4" y="11.1" width="1.5" height="1.5" fill="#ffffff" opacity="0.42"/><rect x="49.9" y="40.1" width="2.5" height="2.5" fill="#ffffff" opacity="0.27"/><rect x="24.7" y="39.3" width="1.5" height="1.5" fill="#d0ecff" opacity="0.25"/><rect x="20.0" y="25.0" width="1.5" height="1.5" fill="#b0dcff" opacity="0.23"/><rect x="5.1" y="19.4" width="2.5" height="2.5" fill="#a0ccf8" opacity="0.42"/><rect x="62.9" y="63.4" width="1.5" height="1.5" fill="#b0dcff" opacity="0.41"/><rect x="43.4" y="23.8" width="1" height="1" fill="#b0dcff" opacity="0.28"/><rect x="20.6" y="16.3" width="1.5" height="1.5" fill="#b0dcff" opacity="0.47"/><rect x="15.3" y="44.0" width="2.5" height="2.5" fill="#a0ccf8" opacity="0.25"/><rect x="29.9" y="28.0" width="2.5" height="2.5" fill="#ffffff" opacity="0.40"/><rect x="39.8" y="6.3" width="2" height="2" fill="#b0dcff" opacity="0.21"/><rect x="1.2" y="32.1" width="2.5" height="2.5" fill="#d0ecff" opacity="0.32"/><rect x="44.8" y="15.4" width="1.5" height="1.5" fill="#d0ecff" opacity="0.48"/><rect x="6.0" y="19.8" width="1" height="1" fill="#a0ccf8" opacity="0.31"/><rect x="23.7" y="8.6" width="1" height="1" fill="#a0ccf8" opacity="0.36"/><rect x="19.8" y="26.7" width="2.5" height="2.5" fill="#b0dcff" opacity="0.27"/><rect x="56.5" y="1.1" width="1.5" height="1.5" fill="#d0ecff" opacity="0.22"/><rect x="9.7" y="31.8" width="2" height="2" fill="#a0ccf8" opacity="0.34"/><rect x="9.8" y="9.8" width="1" height="1" fill="#ffffff" opacity="0.29"/><rect x="57.0" y="4.5" width="1" height="1" fill="#d0ecff" opacity="0.26"/><rect x="43.4" y="12.1" width="1.5" height="1.5" fill="#ffffff" opacity="0.31"/><rect x="2.4" y="31.7" width="1" height="1" fill="#a0ccf8" opacity="0.25"/><rect x="14.9" y="22.9" width="1.5" height="1.5" fill="#ffffff" opacity="0.32"/><rect x="46.6" y="33.6" width="1.5" height="1.5" fill="#d0ecff" opacity="0.30"/><rect x="13.7" y="2.6" width="1.5" height="1.5" fill="#ffffff" opacity="0.38"/><rect x="1.3" y="23.6" width="2.5" height="2.5" fill="#a0ccf8" opacity="0.25"/><rect x="51.6" y="58.0" width="1" height="1" fill="#d0ecff" opacity="0.27"/><rect x="62.1" y="25.0" width="2" height="2" fill="#a0ccf8" opacity="0.48"/><rect x="0.7" y="22.5" width="2.5" height="2.5" fill="#ffffff" opacity="0.38"/><rect x="41.4" y="10.3" width="2" height="2" fill="#a0ccf8" opacity="0.26"/><rect x="49.6" y="47.4" width="1.5" height="1.5" fill="#ffffff" opacity="0.47"/><rect x="26.0" y="11.4" width="1" height="1" fill="#ffffff" opacity="0.37"/><rect x="58.3" y="61.1" width="1.5" height="1.5" fill="#d0ecff" opacity="0.50"/><rect x="47.5" y="13.6" width="2" height="2" fill="#ffffff" opacity="0.47"/><rect x="7.9" y="15.4" width="2.5" height="2.5" fill="#a0ccf8" opacity="0.38"/><rect x="49.3" y="48.1" width="2.5" height="2.5" fill="#b0dcff" opacity="0.28"/><rect x="52.9" y="14.2" width="2.5" height="2.5" fill="#a0ccf8" opacity="0.28"/><rect x="13.2" y="50.5" width="2" height="2" fill="#ffffff" opacity="0.38"/><rect x="47.1" y="46.8" width="2.5" height="2.5" fill="#b0dcff" opacity="0.31"/><rect x="2.1" y="49.8" width="2.5" height="2.5" fill="#ffffff" opacity="0.37"/><rect x="12.6" y="14.5" width="1" height="1" fill="#a0ccf8" opacity="0.40"/><rect x="23.7" y="52.9" width="2" height="2" fill="#a0ccf8" opacity="0.30"/><rect x="24.9" y="40.2" width="1" height="1" fill="#d0ecff" opacity="0.46"/><rect x="24.0" y="16.0" width="1.5" height="1.5" fill="#a0ccf8" opacity="0.44"/><rect x="38.1" y="21.3" width="1.5" height="1.5" fill="#d0ecff" opacity="0.42"/><rect x="40.6" y="9.4" width="4" height="4" fill="#3a64d4" opacity="0.23"/><rect x="18.9" y="14.0" width="4" height="4" fill="#2a50c8" opacity="0.23"/><rect x="31.7" y="2.1" width="4" height="4" fill="#3a64d4" opacity="0.43"/><rect x="23.6" y="12.4" width="3" height="3" fill="#2a50c8" opacity="0.27"/><rect x="44.6" y="26.5" width="4" height="4" fill="#2a50c8" opacity="0.39"/><rect x="41.9" y="1.4" width="4" height="4" fill="#4070d8" opacity="0.26"/><rect x="28.4" y="32.0" width="4" height="4" fill="#4070d8" opacity="0.29"/><rect x="1.4" y="60.9" width="3" height="3" fill="#2a50c8" opacity="0.29"/><rect x="40.7" y="29.2" width="3" height="3" fill="#4070d8" opacity="0.35"/><rect x="50.5" y="1.3" width="2" height="2" fill="#4070d8" opacity="0.42"/><rect x="49.6" y="57.7" width="3" height="3" fill="#4070d8" opacity="0.22"/><rect x="9.9" y="0.9" width="3" height="3" fill="#3a64d4" opacity="0.28"/><rect x="19.2" y="61.7" width="2" height="2" fill="#3a64d4" opacity="0.25"/><rect x="0.7" y="10.1" width="2" height="2" fill="#2a50c8" opacity="0.26"/><rect x="10.7" y="41.2" width="2" height="2" fill="#4070d8" opacity="0.30"/><rect x="13.0" y="44.8" width="2" height="2" fill="#4070d8" opacity="0.20"/><rect x="14.1" y="36.4" width="4" height="4" fill="#2a50c8" opacity="0.25"/><rect x="50.5" y="59.4" width="2" height="2" fill="#4070d8" opacity="0.37"/><rect x="25.6" y="61.4" width="3" height="3" fill="#4070d8" opacity="0.29"/><rect x="2.2" y="31.9" width="4" height="4" fill="#3a64d4" opacity="0.39"/><rect x="30.9" y="2.4" width="3" height="3" fill="#4070d8" opacity="0.22"/><rect x="49.7" y="46.1" width="3" height="3" fill="#4070d8" opacity="0.41"/><rect x="21.8" y="42.5" width="3" height="3" fill="#4070d8" opacity="0.27"/><rect x="3.4" y="18.4" width="2" height="2" fill="#2a50c8" opacity="0.32"/><rect x="48.2" y="9.6" width="3" height="3" fill="#3a64d4" opacity="0.30"/><rect x="42.4" y="28.3" width="4" height="4" fill="#2a50c8" opacity="0.21"/><rect x="55.4" y="27.2" width="3" height="3" fill="#4070d8" opacity="0.23"/><rect x="13.9" y="56.5" width="3" height="3" fill="#4070d8" opacity="0.25"/><rect x="40.1" y="38.9" width="2" height="2" fill="#3a64d4" opacity="0.25"/><rect x="27.2" y="12.8" width="2" height="2" fill="#2a50c8" opacity="0.25"/><rect x="55.6" y="21.6" width="4" height="4" fill="#4070d8" opacity="0.39"/><rect x="61.7" y="15.9" width="3" height="3" fill="#3a64d4" opacity="0.33"/><rect x="12.1" y="44.9" width="3" height="3" fill="#2a50c8" opacity="0.37"/><rect x="9.2" y="23.5" width="4" height="4" fill="#4070d8" opacity="0.24"/><rect x="48.0" y="44.6" width="2" height="2" fill="#4070d8" opacity="0.44"/><rect x="15.7" y="63.8" width="2" height="2" fill="#3a64d4" opacity="0.34"/><rect x="46.2" y="1.8" width="3" height="3" fill="#4070d8" opacity="0.27"/><rect x="13.6" y="63.0" width="2" height="2" fill="#4070d8" opacity="0.26"/><rect x="55.8" y="57.2" width="3" height="3" fill="#3a64d4" opacity="0.44"/><rect x="41.7" y="42.6" width="4" height="4" fill="#2a50c8" opacity="0.44"/><rect x="57.7" y="24.4" width="2" height="2" fill="#1828a0" opacity="0.7"/><rect x="59.4" y="49.3" width="2" height="2" fill="#1828a0" opacity="0.7"/><rect x="33.2" y="3.1" width="2" height="2" fill="#1828a0" opacity="0.7"/></pattern><filter id="bl10" x="-50%" y="-50%" width="200%" height="200%"><feGaussianBlur stdDeviation="10"/></filter></defs>
<g clip-path="url(#cm2)">
<rect x="570" y="115" width="380" height="350" fill="#4a84e2"/>
<path d="M686,152 L757,150 L757,192 L818,205 L826,222 L814,262 L800,300 L790,330 L745,342 L705,332 L690,300 L686,262 Z" fill="#88bdf4" filter="url(#bl10)"/>
<ellipse cx="730" cy="260" rx="30" ry="40" fill="#92c6f6" opacity="0.8" filter="url(#bl8)"/>
<rect x="660" y="118" width="110" height="26" fill="#3a6cd8" opacity="0.8" filter="url(#bl6)"/>
<ellipse cx="625" cy="300" rx="45" ry="35" fill="#3c72da" opacity="0.8" filter="url(#bl8)"/>
<ellipse cx="895" cy="300" rx="30" ry="40" fill="#5088e4" opacity="0.8" filter="url(#bl8)"/>
<ellipse cx="815" cy="425" rx="22" ry="32" fill="#3262d0" opacity="0.8" filter="url(#bl8)"/>
<ellipse cx="737" cy="338" rx="35" ry="22" fill="#3a6cd8" opacity="0.85" filter="url(#bl8)"/>
<path d="M855,204 L842,248 L828,288 L812,325 L796,352 L790,370" stroke="#2848c0" stroke-width="22" stroke-linecap="round" fill="none" opacity="0.9" filter="url(#bl6)"/>
<path d="M853,206 L841,248 L827,288 L811,325 L795,352" stroke="#2242b8" stroke-width="9" fill="none" opacity="0.75" filter="url(#bl2)"/>
<path d="M838,282 L848,330" stroke="#7aaaf0" stroke-width="2" fill="none" opacity="0.7"/>
<path d="M768,362 C775,352 800,355 812,360 C815,375 808,398 795,405 C780,408 768,392 766,380 Z" fill="#1424a4" opacity="0.95" filter="url(#bl2)"/>
<circle cx="722" cy="292" r="4.5" fill="#1a2aa8" opacity="0.85" filter="url(#bl2)"/>
<circle cx="588" cy="268" r="3" fill="#1a2aa8" opacity="0.7" filter="url(#bl2)"/>
<circle cx="640" cy="312" r="3" fill="#2030b0" opacity="0.6" filter="url(#bl2)"/>
<rect x="570" y="115" width="380" height="350" fill="url(#tm2)"/>
</g>
<text x="301.5" y="404.3" font-size="12.50" fill="#1c1c1c" font-weight="bold" text-anchor="start" font-family="'Liberation Sans',sans-serif" textLength="179.5" lengthAdjust="spacingAndGlyphs">A SAMPLE OF BANKS’ TX WATER</text>
<text x="309.0" y="420.4" font-size="12.50" fill="#1c1c1c" font-weight="bold" text-anchor="start" font-family="'Liberation Sans',sans-serif" textLength="164.0" lengthAdjust="spacingAndGlyphs">WELL DATABASE. EACH WELL</text>
<text x="311.0" y="437.0" font-size="12.50" fill="#1c1c1c" font-weight="bold" text-anchor="start" font-family="'Liberation Sans',sans-serif" textLength="160.0" lengthAdjust="spacingAndGlyphs">HAS BEEN COLOR-CODED BY</text>
<text x="345.0" y="453.3" font-size="12.50" fill="#1c1c1c" font-weight="bold" text-anchor="start" font-family="'Liberation Sans',sans-serif" textLength="92.0" lengthAdjust="spacingAndGlyphs">DEPTH DRILLED.</text>
<text x="861.8" y="404.3" font-size="12.50" fill="#1c1c1c" font-weight="bold" text-anchor="start" font-family="'Liberation Sans',sans-serif" textLength="133.2" lengthAdjust="spacingAndGlyphs">BY INTERPOLATING THE</text>
<text x="853.9" y="420.4" font-size="12.50" fill="#1c1c1c" font-weight="bold" text-anchor="start" font-family="'Liberation Sans',sans-serif" textLength="148.4" lengthAdjust="spacingAndGlyphs">DATASETS, WE CREATED A</text>
<text x="847.5" y="436.8" font-size="12.50" fill="#1c1c1c" font-weight="bold" text-anchor="start" font-family="'Liberation Sans',sans-serif" textLength="161.3" lengthAdjust="spacingAndGlyphs">SOLID SURFACE ESTIMATING</text>
<text x="858.8" y="452.7" font-size="12.50" fill="#1c1c1c" font-weight="bold" text-anchor="start" font-family="'Liberation Sans',sans-serif" textLength="138.5" lengthAdjust="spacingAndGlyphs">GROUNDWATER DEPTHS</text>
<text x="838.3" y="469.2" font-size="12.50" fill="#1c1c1c" font-weight="bold" text-anchor="start" font-family="'Liberation Sans',sans-serif" textLength="180.9" lengthAdjust="spacingAndGlyphs">THROUGOUT THE ENTIRE STATE.</text>
<rect x="4" y="465" width="240.5" height="16" fill="url(#g1)"/>
<text x="5.0" y="462.0" font-size="9.45" fill="#1c1c1c" font-weight="normal" text-anchor="start" font-family="'Liberation Sans',sans-serif" textLength="22.0" lengthAdjust="spacingAndGlyphs" stroke="#1c1c1c" stroke-width="0.35">&lt;50’</text>
<text x="85.0" y="462.0" font-size="9.45" fill="#1c1c1c" font-weight="normal" text-anchor="start" font-family="'Liberation Sans',sans-serif" textLength="78.0" lengthAdjust="spacingAndGlyphs" stroke="#1c1c1c" stroke-width="0.35">DEPTH DRILLED</text>
<text x="212.0" y="462.0" font-size="9.45" fill="#1c1c1c" font-weight="normal" text-anchor="start" font-family="'Liberation Sans',sans-serif" textLength="32.0" lengthAdjust="spacingAndGlyphs" stroke="#1c1c1c" stroke-width="0.35">&gt;5000’</text>
<rect x="519.3" y="467" width="257.6" height="14" fill="url(#g2)"/>
<text x="520.0" y="464.0" font-size="9.45" fill="#1c1c1c" font-weight="normal" text-anchor="start" font-family="'Liberation Sans',sans-serif" textLength="24.0" lengthAdjust="spacingAndGlyphs" stroke="#1c1c1c" stroke-width="0.35">&lt;50’</text>
<text x="581.5" y="464.0" font-size="9.45" fill="#1c1c1c" font-weight="normal" text-anchor="start" font-family="'Liberation Sans',sans-serif" textLength="133.9" lengthAdjust="spacingAndGlyphs" stroke="#1c1c1c" stroke-width="0.35">DEPTH TO GROUNDWATER</text>
<text x="743.0" y="464.0" font-size="9.45" fill="#1c1c1c" font-weight="normal" text-anchor="start" font-family="'Liberation Sans',sans-serif" textLength="34.0" lengthAdjust="spacingAndGlyphs" stroke="#1c1c1c" stroke-width="0.35">&gt;5000’</text>
<line x1="14.3" y1="494.8" x2="1010.5" y2="494.8" stroke="#555555" stroke-width="2.4" stroke-dasharray="10.1 7.2 2.7 7.38"/>
<line x1="217.5" y1="505.2" x2="217.5" y2="826" stroke="#555555" stroke-width="2.8" stroke-dasharray="10 7.5 2.5 7.6"/>
<line x1="639.9" y1="504.4" x2="639.9" y2="826" stroke="#555555" stroke-width="2.8" stroke-dasharray="10 7.3 2.5 7.6"/>
<rect x="11.2" y="504.3" width="194.6" height="34" fill="#49aac5"/>
<text x="22.0" y="532.9" font-size="24.71" fill="#fff" font-weight="normal" text-anchor="start" font-family="'Liberation Sans',sans-serif" textLength="10.3" lengthAdjust="spacingAndGlyphs" stroke="#fff" stroke-width="0.5">T</text>
<text x="33.3" y="532.9" font-size="24.71" fill="#fff" font-weight="normal" text-anchor="start" font-family="'Liberation Sans',sans-serif" textLength="19.7" lengthAdjust="spacingAndGlyphs" stroke="#fff" stroke-width="0.5">O</text>
<text x="54.4" y="532.9" font-size="24.71" fill="#fff" font-weight="normal" text-anchor="start" font-family="'Liberation Sans',sans-serif" textLength="11.0" lengthAdjust="spacingAndGlyphs" stroke="#fff" stroke-width="0.5">P</text>
<text x="74.9" y="532.9" font-size="24.71" fill="#fff" font-weight="normal" text-anchor="start" font-family="'Liberation Sans',sans-serif" textLength="14.2" lengthAdjust="spacingAndGlyphs" stroke="#fff" stroke-width="0.5">6</text>
<text x="95.2" y="521.8" font-size="15.99" fill="#fff" font-weight="normal" text-anchor="start" font-family="'Liberation Sans',sans-serif" textLength="8.6" lengthAdjust="spacingAndGlyphs">R</text>
<text x="103.5" y="521.8" font-size="15.99" fill="#fff" font-weight="normal" text-anchor="start" font-family="'Liberation Sans',sans-serif" textLength="7.5" lengthAdjust="spacingAndGlyphs">E</text>
<text x="111.5" y="521.8" font-size="15.99" fill="#fff" font-weight="normal" text-anchor="start" font-family="'Liberation Sans',sans-serif" textLength="9.4" lengthAdjust="spacingAndGlyphs">A</text>
<text x="120.8" y="521.8" font-size="15.99" fill="#fff" font-weight="normal" text-anchor="start" font-family="'Liberation Sans',sans-serif" textLength="7.6" lengthAdjust="spacingAndGlyphs">S</text>
<text x="128.2" y="521.8" font-size="15.99" fill="#fff" font-weight="normal" text-anchor="start" font-family="'Liberation Sans',sans-serif" textLength="12.8" lengthAdjust="spacingAndGlyphs">O</text>
<text x="141.1" y="521.8" font-size="15.99" fill="#fff" font-weight="normal" text-anchor="start" font-family="'Liberation Sans',sans-serif" textLength="10.6" lengthAdjust="spacingAndGlyphs">N</text>
<text x="150.9" y="521.8" font-size="15.99" fill="#fff" font-weight="normal" text-anchor="start" font-family="'Liberation Sans',sans-serif" textLength="8.3" lengthAdjust="spacingAndGlyphs">S</text>
<text x="168.7" y="521.8" font-size="15.99" fill="#fff" font-weight="normal" text-anchor="start" font-family="'Liberation Sans',sans-serif" textLength="8.9" lengthAdjust="spacingAndGlyphs">T</text>
<text x="177.9" y="521.8" font-size="15.99" fill="#fff" font-weight="normal" text-anchor="start" font-family="'Liberation Sans',sans-serif" textLength="9.8" lengthAdjust="spacingAndGlyphs">X</text>
<text x="95.1" y="536.8" font-size="15.41" fill="#fff" font-weight="normal" text-anchor="start" font-family="'Liberation Sans',sans-serif" textLength="10.0" lengthAdjust="spacingAndGlyphs">D</text>
<text x="105.4" y="536.8" font-size="15.41" fill="#fff" font-weight="normal" text-anchor="start" font-family="'Liberation Sans',sans-serif" textLength="8.8" lengthAdjust="spacingAndGlyphs">R</text>
<text x="114.8" y="536.8" font-size="15.41" fill="#fff" font-weight="normal" text-anchor="start" font-family="'Liberation Sans',sans-serif" textLength="4.3" lengthAdjust="spacingAndGlyphs">I</text>
<text x="118.7" y="536.8" font-size="15.41" fill="#fff" font-weight="normal" text-anchor="start" font-family="'Liberation Sans',sans-serif" textLength="6.6" lengthAdjust="spacingAndGlyphs">L</text>
<text x="125.5" y="536.8" font-size="15.41" fill="#fff" font-weight="normal" text-anchor="start" font-family="'Liberation Sans',sans-serif" textLength="5.8" lengthAdjust="spacingAndGlyphs">L</text>
<text x="131.5" y="536.8" font-size="15.41" fill="#fff" font-weight="normal" text-anchor="start" font-family="'Liberation Sans',sans-serif" textLength="7.2" lengthAdjust="spacingAndGlyphs">S</text>
<path d="M144.10,526.20 V533.58 A2.42,2.42 0 0 0 148.95,533.58 V526.20 M148.95,533.58 A2.42,2.42 0 0 0 153.80,533.58 V526.20" fill="none" stroke="#fff" stroke-width="1.6"/>
<text x="155.8" y="536.8" font-size="15.41" fill="#fff" font-weight="normal" text-anchor="start" font-family="'Liberation Sans',sans-serif" textLength="7.5" lengthAdjust="spacingAndGlyphs">E</text>
<text x="164.0" y="536.8" font-size="15.41" fill="#fff" font-weight="normal" text-anchor="start" font-family="'Liberation Sans',sans-serif" textLength="6.4" lengthAdjust="spacingAndGlyphs">L</text>
<text x="170.1" y="536.8" font-size="15.41" fill="#fff" font-weight="normal" text-anchor="start" font-family="'Liberation Sans',sans-serif" textLength="6.4" lengthAdjust="spacingAndGlyphs">L</text>
<text x="176.7" y="536.8" font-size="15.41" fill="#fff" font-weight="normal" text-anchor="start" font-family="'Liberation Sans',sans-serif" textLength="7.6" lengthAdjust="spacingAndGlyphs">S</text>
<rect x="229" y="504.2" width="335" height="33.8" fill="#49aac5"/>
<text x="241.4" y="531.8" font-size="24.56" fill="#fff" font-weight="normal" text-anchor="start" font-family="'Liberation Sans',sans-serif" textLength="12.8" lengthAdjust="spacingAndGlyphs" stroke="#fff" stroke-width="0.5">R</text>
<text x="254.7" y="531.8" font-size="24.56" fill="#fff" font-weight="normal" text-anchor="start" font-family="'Liberation Sans',sans-serif" textLength="11.4" lengthAdjust="spacingAndGlyphs" stroke="#fff" stroke-width="0.5">E</text>
<text x="266.9" y="531.8" font-size="24.56" fill="#fff" font-weight="normal" text-anchor="start" font-family="'Liberation Sans',sans-serif" textLength="11.5" lengthAdjust="spacingAndGlyphs" stroke="#fff" stroke-width="0.5">S</text>
<text x="280.1" y="531.8" font-size="24.56" fill="#fff" font-weight="normal" text-anchor="start" font-family="'Liberation Sans',sans-serif" textLength="10.7" lengthAdjust="spacingAndGlyphs" stroke="#fff" stroke-width="0.5">E</text>
<text x="291.8" y="531.8" font-size="24.56" fill="#fff" font-weight="normal" text-anchor="start" font-family="'Liberation Sans',sans-serif" textLength="15.1" lengthAdjust="spacingAndGlyphs" stroke="#fff" stroke-width="0.5">A</text>
<text x="307.8" y="531.8" font-size="24.56" fill="#fff" font-weight="normal" text-anchor="start" font-family="'Liberation Sans',sans-serif" textLength="11.9" lengthAdjust="spacingAndGlyphs" stroke="#fff" stroke-width="0.5">R</text>
<text x="320.0" y="531.8" font-size="24.56" fill="#fff" font-weight="normal" text-anchor="start" font-family="'Liberation Sans',sans-serif" textLength="17.8" lengthAdjust="spacingAndGlyphs" stroke="#fff" stroke-width="0.5">C</text>
<text x="338.8" y="531.8" font-size="24.56" fill="#fff" font-weight="normal" text-anchor="start" font-family="'Liberation Sans',sans-serif" textLength="12.8" lengthAdjust="spacingAndGlyphs" stroke="#fff" stroke-width="0.5">H</text>
<text x="361.3" y="522.6" font-size="15.70" fill="#fff" font-weight="normal" text-anchor="start" font-family="'Liberation Sans',sans-serif" textLength="14.1" lengthAdjust="spacingAndGlyphs">M</text>
<text x="375.3" y="522.6" font-size="15.70" fill="#fff" font-weight="normal" text-anchor="start" font-family="'Liberation Sans',sans-serif" textLength="12.2" lengthAdjust="spacingAndGlyphs">O</text>
<text x="387.7" y="522.6" font-size="15.70" fill="#fff" font-weight="normal" text-anchor="start" font-family="'Liberation Sans',sans-serif" textLength="7.8" lengthAdjust="spacingAndGlyphs">R</text>
<text x="395.9" y="522.6" font-size="15.70" fill="#fff" font-weight="normal" text-anchor="start" font-family="'Liberation Sans',sans-serif" textLength="8.5" lengthAdjust="spacingAndGlyphs">E</text>
<path d="M414.80,511.60 V519.50 A2.30,2.30 0 0 0 419.40,519.50 V511.60 M419.40,519.50 A2.30,2.30 0 0 0 424.00,519.50 V511.60" fill="none" stroke="#fff" stroke-width="1.6"/>
<text x="425.3" y="522.6" font-size="15.70" fill="#fff" font-weight="normal" text-anchor="start" font-family="'Liberation Sans',sans-serif" textLength="7.3" lengthAdjust="spacingAndGlyphs">E</text>
<text x="432.6" y="522.6" font-size="15.70" fill="#fff" font-weight="normal" text-anchor="start" font-family="'Liberation Sans',sans-serif" textLength="6.2" lengthAdjust="spacingAndGlyphs">L</text>
<text x="438.8" y="522.6" font-size="15.70" fill="#fff" font-weight="normal" text-anchor="start" font-family="'Liberation Sans',sans-serif" textLength="7.4" lengthAdjust="spacingAndGlyphs">L</text>
<text x="445.8" y="522.6" font-size="15.70" fill="#fff" font-weight="normal" text-anchor="start" font-family="'Liberation Sans',sans-serif" textLength="12.7" lengthAdjust="spacingAndGlyphs">S</text>
<text x="464.2" y="522.6" font-size="15.70" fill="#fff" font-weight="normal" text-anchor="start" font-family="'Liberation Sans',sans-serif" textLength="9.5" lengthAdjust="spacingAndGlyphs">T</text>
<text x="473.8" y="522.6" font-size="15.70" fill="#fff" font-weight="normal" text-anchor="start" font-family="'Liberation Sans',sans-serif" textLength="8.8" lengthAdjust="spacingAndGlyphs">H</text>
<text x="482.1" y="522.6" font-size="15.70" fill="#fff" font-weight="normal" text-anchor="start" font-family="'Liberation Sans',sans-serif" textLength="9.9" lengthAdjust="spacingAndGlyphs">A</text>
<text x="492.7" y="522.6" font-size="15.70" fill="#fff" font-weight="normal" text-anchor="start" font-family="'Liberation Sans',sans-serif" textLength="9.6" lengthAdjust="spacingAndGlyphs">N</text>
<text x="362.7" y="537.2" font-size="14.10" fill="#fff" font-weight="normal" text-anchor="start" font-family="'Liberation Sans',sans-serif" textLength="173.6" lengthAdjust="spacingAndGlyphs">YOU CAN SHAKE A STICK AT</text>
<rect x="652.3" y="503" width="296.3" height="34" fill="#49aac5"/>
<text x="664.0" y="531.8" font-size="25.29" fill="#fff" font-weight="normal" text-anchor="start" font-family="'Liberation Sans',sans-serif" textLength="19.9" lengthAdjust="spacingAndGlyphs" stroke="#fff" stroke-width="0.5">M</text>
<text x="683.7" y="531.8" font-size="25.29" fill="#fff" font-weight="normal" text-anchor="start" font-family="'Liberation Sans',sans-serif" textLength="21.8" lengthAdjust="spacingAndGlyphs" stroke="#fff" stroke-width="0.5">O</text>
<text x="705.9" y="531.8" font-size="25.29" fill="#fff" font-weight="normal" text-anchor="start" font-family="'Liberation Sans',sans-serif" textLength="11.7" lengthAdjust="spacingAndGlyphs" stroke="#fff" stroke-width="0.5">R</text>
<text x="718.6" y="531.8" font-size="25.29" fill="#fff" font-weight="normal" text-anchor="start" font-family="'Liberation Sans',sans-serif" textLength="11.1" lengthAdjust="spacingAndGlyphs" stroke="#fff" stroke-width="0.5">E</text>
<text x="738.5" y="531.8" font-size="25.29" fill="#fff" font-weight="normal" text-anchor="start" font-family="'Liberation Sans',sans-serif" textLength="12.5" lengthAdjust="spacingAndGlyphs" stroke="#fff" stroke-width="0.5">T</text>
<text x="750.6" y="531.8" font-size="25.29" fill="#fff" font-weight="normal" text-anchor="start" font-family="'Liberation Sans',sans-serif" textLength="13.7" lengthAdjust="spacingAndGlyphs" stroke="#fff" stroke-width="0.5">X</text>
<path d="M775.15,514.40 V527.20 A3.45,3.45 0 0 0 782.05,527.20 V514.40 M782.05,527.20 A3.45,3.45 0 0 0 788.95,527.20 V514.40" fill="none" stroke="#fff" stroke-width="2.3"/>
<text x="792.7" y="531.8" font-size="25.29" fill="#fff" font-weight="normal" text-anchor="start" font-family="'Liberation Sans',sans-serif" textLength="13.6" lengthAdjust="spacingAndGlyphs" stroke="#fff" stroke-width="0.5">A</text>
<text x="807.0" y="531.8" font-size="25.29" fill="#fff" font-weight="normal" text-anchor="start" font-family="'Liberation Sans',sans-serif" textLength="11.2" lengthAdjust="spacingAndGlyphs" stroke="#fff" stroke-width="0.5">T</text>
<text x="818.3" y="531.8" font-size="25.29" fill="#fff" font-weight="normal" text-anchor="start" font-family="'Liberation Sans',sans-serif" textLength="12.7" lengthAdjust="spacingAndGlyphs" stroke="#fff" stroke-width="0.5">E</text>
<text x="832.5" y="531.8" font-size="25.29" fill="#fff" font-weight="normal" text-anchor="start" font-family="'Liberation Sans',sans-serif" textLength="11.2" lengthAdjust="spacingAndGlyphs" stroke="#fff" stroke-width="0.5">R</text>
<text x="852.2" y="531.8" font-size="25.29" fill="#fff" font-weight="normal" text-anchor="start" font-family="'Liberation Sans',sans-serif" textLength="20.4" lengthAdjust="spacingAndGlyphs" stroke="#fff" stroke-width="0.5">M</text>
<text x="873.1" y="531.8" font-size="25.29" fill="#fff" font-weight="normal" text-anchor="start" font-family="'Liberation Sans',sans-serif" textLength="14.0" lengthAdjust="spacingAndGlyphs" stroke="#fff" stroke-width="0.5">A</text>
<text x="888.3" y="531.8" font-size="25.29" fill="#fff" font-weight="normal" text-anchor="start" font-family="'Liberation Sans',sans-serif" textLength="10.4" lengthAdjust="spacingAndGlyphs" stroke="#fff" stroke-width="0.5">P</text>
<text x="900.5" y="531.8" font-size="25.29" fill="#fff" font-weight="normal" text-anchor="start" font-family="'Liberation Sans',sans-serif" textLength="12.5" lengthAdjust="spacingAndGlyphs" stroke="#fff" stroke-width="0.5">S</text>
<path d="M27,569.4 H80 C95,569.4 104,560 106.3,547 C108.6,560 118,569.4 133,569.4 H186 Q205.3,569.4 205.3,588.5 V703 Q205.3,721.5 186,721.5 H129 C116,721.5 108,730 105.7,745 C103.4,730 95,721.5 83,721.5 H27 Q7.7,721.5 7.7,703 V588.5 Q7.7,569.4 27,569.4 Z" fill="#49aac5"/>
<text x="27.0" y="602.0" font-size="15.12" fill="#0f1e2a" font-weight="normal" text-anchor="start" font-family="'Liberation Sans',sans-serif" textLength="11.2" lengthAdjust="spacingAndGlyphs" stroke="#0f1e2a" stroke-width="0.35">1.</text>
<text x="52.6" y="602.0" font-size="15.12" fill="#0f1e2a" font-weight="normal" text-anchor="start" font-family="'Liberation Sans',sans-serif" textLength="67.4" lengthAdjust="spacingAndGlyphs" stroke="#0f1e2a" stroke-width="0.35">DOMESTIC</text>
<text x="161.8" y="602.0" font-size="15.12" fill="#0f1e2a" font-weight="normal" text-anchor="start" font-family="'Liberation Sans',sans-serif" textLength="26.2" lengthAdjust="spacingAndGlyphs" stroke="#0f1e2a" stroke-width="0.35">56%</text>
<text x="27.0" y="623.8" font-size="15.12" fill="#0f1e2a" font-weight="normal" text-anchor="start" font-family="'Liberation Sans',sans-serif" textLength="11.2" lengthAdjust="spacingAndGlyphs" stroke="#0f1e2a" stroke-width="0.35">2.</text>
<text x="52.6" y="623.8" font-size="15.12" fill="#0f1e2a" font-weight="normal" text-anchor="start" font-family="'Liberation Sans',sans-serif" textLength="74.7" lengthAdjust="spacingAndGlyphs" stroke="#0f1e2a" stroke-width="0.35">IRRIGATION</text>
<text x="161.8" y="623.8" font-size="15.12" fill="#0f1e2a" font-weight="normal" text-anchor="start" font-family="'Liberation Sans',sans-serif" textLength="26.2" lengthAdjust="spacingAndGlyphs" stroke="#0f1e2a" stroke-width="0.35">17%</text>
<text x="27.0" y="645.6" font-size="15.12" fill="#0f1e2a" font-weight="normal" text-anchor="start" font-family="'Liberation Sans',sans-serif" textLength="11.2" lengthAdjust="spacingAndGlyphs" stroke="#0f1e2a" stroke-width="0.35">3.</text>
<text x="52.6" y="645.6" font-size="15.12" fill="#0f1e2a" font-weight="normal" text-anchor="start" font-family="'Liberation Sans',sans-serif" textLength="95.2" lengthAdjust="spacingAndGlyphs" stroke="#0f1e2a" stroke-width="0.35">PUBLIC SUPPLY</text>
<text x="161.8" y="645.6" font-size="15.12" fill="#0f1e2a" font-weight="normal" text-anchor="start" font-family="'Liberation Sans',sans-serif" textLength="18.4" lengthAdjust="spacingAndGlyphs" stroke="#0f1e2a" stroke-width="0.35">7%</text>
<text x="27.0" y="667.4" font-size="15.12" fill="#0f1e2a" font-weight="normal" text-anchor="start" font-family="'Liberation Sans',sans-serif" textLength="11.2" lengthAdjust="spacingAndGlyphs" stroke="#0f1e2a" stroke-width="0.35">4.</text>
<text x="52.6" y="667.4" font-size="15.12" fill="#0f1e2a" font-weight="normal" text-anchor="start" font-family="'Liberation Sans',sans-serif" textLength="40.4" lengthAdjust="spacingAndGlyphs" stroke="#0f1e2a" stroke-width="0.35">STOCK</text>
<text x="161.8" y="667.4" font-size="15.12" fill="#0f1e2a" font-weight="normal" text-anchor="start" font-family="'Liberation Sans',sans-serif" textLength="18.4" lengthAdjust="spacingAndGlyphs" stroke="#0f1e2a" stroke-width="0.35">5%</text>
<text x="27.0" y="689.2" font-size="15.12" fill="#0f1e2a" font-weight="normal" text-anchor="start" font-family="'Liberation Sans',sans-serif" textLength="11.2" lengthAdjust="spacingAndGlyphs" stroke="#0f1e2a" stroke-width="0.35">5.</text>
<text x="52.6" y="689.2" font-size="15.12" fill="#0f1e2a" font-weight="normal" text-anchor="start" font-family="'Liberation Sans',sans-serif" textLength="75.4" lengthAdjust="spacingAndGlyphs" stroke="#0f1e2a" stroke-width="0.35">INDUSTRIAL</text>
<text x="161.8" y="689.2" font-size="15.12" fill="#0f1e2a" font-weight="normal" text-anchor="start" font-family="'Liberation Sans',sans-serif" textLength="18.4" lengthAdjust="spacingAndGlyphs" stroke="#0f1e2a" stroke-width="0.35">4%</text>
<text x="27.0" y="711.0" font-size="15.12" fill="#0f1e2a" font-weight="normal" text-anchor="start" font-family="'Liberation Sans',sans-serif" textLength="11.2" lengthAdjust="spacingAndGlyphs" stroke="#0f1e2a" stroke-width="0.35">6.</text>
<text x="52.6" y="711.0" font-size="15.12" fill="#0f1e2a" font-weight="normal" text-anchor="start" font-family="'Liberation Sans',sans-serif" textLength="72.5" lengthAdjust="spacingAndGlyphs" stroke="#0f1e2a" stroke-width="0.35">RIG SUPPLY</text>
<text x="161.8" y="711.0" font-size="15.12" fill="#0f1e2a" font-weight="normal" text-anchor="start" font-family="'Liberation Sans',sans-serif" textLength="18.4" lengthAdjust="spacingAndGlyphs" stroke="#0f1e2a" stroke-width="0.35">4%</text>
<rect x="20.5" y="760.2" width="36.5" height="48.9" fill="#137038"/>
<g fill="none" stroke="#fff" stroke-linecap="round">
<path d="M20.5,763.2 C33,761.8 47,763 55,768 C60,771.5 59,777 52,780.5 C46,783.5 39,786 32,787.5" stroke-width="2"/>
<path d="M26.5,790.2 C36,789 45.5,791 45.5,796.5 C45.5,802.5 37,806 28,805.8" stroke-width="2"/>
<path d="M41.8,770.8 C39,778 30,795 21.5,808.5" stroke-width="2.2"/>
<path d="M39.3,771.5 L42.6,770.3" stroke-width="1.6"/>
</g>
<text x="65.5" y="788.3" font-size="45.80" fill="#231f20" font-weight="bold" text-anchor="start" font-family="'Liberation Serif',serif" textLength="124.4" lengthAdjust="spacingAndGlyphs">BANKS</text>
<text x="65.5" y="801.7" font-size="10.61" fill="#177a4a" font-weight="normal" text-anchor="start" font-family="'Liberation Sans',sans-serif" textLength="124.4" lengthAdjust="spacingAndGlyphs">ENVIRONMENTAL DATA</text>
<text x="65.5" y="811.5" font-size="7.99" fill="#444" font-weight="normal" text-anchor="start" font-family="'Liberation Sans',sans-serif" textLength="52.6" lengthAdjust="spacingAndGlyphs">A DIVISION OF</text>
<text x="120.8" y="811.5" font-size="7.99" fill="#177a4a" font-weight="normal" text-anchor="start" font-family="'Liberation Sans',sans-serif" textLength="69.1" lengthAdjust="spacingAndGlyphs">THE BANKS GROUP</text>
<text x="39.7" y="824.5" font-size="9.59" fill="#333" font-weight="normal" text-anchor="start" font-family="'Liberation Sans',sans-serif" textLength="147.2" lengthAdjust="spacingAndGlyphs">Infographic and analysis by Ian Holt</text>
<text x="70.3" y="836.1" font-size="9.59" fill="#333" font-weight="normal" text-anchor="start" font-family="'Liberation Sans',sans-serif" textLength="86.8" lengthAdjust="spacingAndGlyphs">iholt@banksinfo.com</text>
<path d="M362,705.5 L362.00,579.50 A126,126 0 0 1 378.01,580.52 Z" fill="#2f7f96"/>
<path d="M362,705.5 L378.01,580.52 A126,126 0 0 1 455.64,789.81 Z" fill="#3a92ae"/>
<path d="M362,705.5 L455.64,789.81 A126,126 0 0 1 433.37,809.34 Z" fill="#4aa3c0"/>
<path d="M362,705.5 L433.37,809.34 A126,126 0 0 1 282.71,803.42 Z" fill="#73b4cd"/>
<path d="M362,705.5 L282.71,803.42 A126,126 0 0 1 339.04,581.61 Z" fill="#a0cadb"/>
<path d="M362,705.5 L339.04,581.61 A126,126 0 0 1 362.00,579.50 Z" fill="#c5e0ea"/>
<text x="319.3" y="570.3" font-size="9.45" fill="#1c1c1c" font-weight="normal" text-anchor="start" font-family="'Liberation Sans',sans-serif" textLength="24.1" lengthAdjust="spacingAndGlyphs" stroke="#1c1c1c" stroke-width="0.35">USGS</text>
<text x="357.0" y="573.8" font-size="9.45" fill="#1c1c1c" font-weight="normal" text-anchor="start" font-family="'Liberation Sans',sans-serif" textLength="25.8" lengthAdjust="spacingAndGlyphs" stroke="#1c1c1c" stroke-width="0.35">HGSD</text>
<path d="M344,568 L349,569 L351,578" stroke="#333" stroke-width="0.8" fill="none"/>
<text x="415.5" y="677.0" font-size="12.65" fill="#e8f03c" font-weight="bold" text-anchor="start" font-family="'Liberation Sans',sans-serif" textLength="61.5" lengthAdjust="spacingAndGlyphs">TCEQ HIST</text>
<text x="242.4" y="688.3" font-size="9.88" fill="#1c1c1c" font-weight="normal" text-anchor="start" font-family="'Liberation Sans',sans-serif" textLength="50.6" lengthAdjust="spacingAndGlyphs" stroke="#1c1c1c" stroke-width="0.35">TWDB WIID</text>
<text x="333.0" y="818.6" font-size="9.88" fill="#1c1c1c" font-weight="normal" text-anchor="start" font-family="'Liberation Sans',sans-serif" textLength="46.3" lengthAdjust="spacingAndGlyphs" stroke="#1c1c1c" stroke-width="0.35">TWDB GW</text>
<text x="445.9" y="810.7" font-size="9.88" fill="#1c1c1c" font-weight="normal" text-anchor="start" font-family="'Liberation Sans',sans-serif" textLength="45.5" lengthAdjust="spacingAndGlyphs" stroke="#1c1c1c" stroke-width="0.35">TCEQ PWS</text>
<text x="569.0" y="564.7" font-size="12.50" fill="#1c1c1c" font-weight="bold" text-anchor="middle" font-family="'Liberation Sans',sans-serif" textLength="57.5" lengthAdjust="spacingAndGlyphs">THE TCEQ</text>
<text x="569.0" y="581.4" font-size="12.50" fill="#1c1c1c" font-weight="bold" text-anchor="middle" font-family="'Liberation Sans',sans-serif" textLength="69.5" lengthAdjust="spacingAndGlyphs">HISTORICAL</text>
<text x="569.0" y="598.0" font-size="12.50" fill="#1c1c1c" font-weight="bold" text-anchor="middle" font-family="'Liberation Sans',sans-serif" textLength="116.3" lengthAdjust="spacingAndGlyphs">DATASET CONTAINS</text>
<text x="569.0" y="614.7" font-size="12.50" fill="#1c1c1c" font-weight="bold" text-anchor="middle" font-family="'Liberation Sans',sans-serif" textLength="92.3" lengthAdjust="spacingAndGlyphs">WELL RECORDS</text>
<text x="569.0" y="631.4" font-size="12.50" fill="#1c1c1c" font-weight="bold" text-anchor="middle" font-family="'Liberation Sans',sans-serif" textLength="100.5" lengthAdjust="spacingAndGlyphs">SEARCHED FROM</text>
<text x="569.0" y="648.1" font-size="12.50" fill="#1c1c1c" font-weight="bold" text-anchor="middle" font-family="'Liberation Sans',sans-serif" textLength="103.0" lengthAdjust="spacingAndGlyphs">THE TCEQ PUBLIC</text>
<text x="569.0" y="664.7" font-size="12.50" fill="#1c1c1c" font-weight="bold" text-anchor="middle" font-family="'Liberation Sans',sans-serif" textLength="77.1" lengthAdjust="spacingAndGlyphs">WATER WELL</text>
<text x="569.0" y="681.4" font-size="12.50" fill="#1c1c1c" font-weight="bold" text-anchor="middle" font-family="'Liberation Sans',sans-serif" textLength="118.8" lengthAdjust="spacingAndGlyphs">VIEWER. EACH WELL</text>
<text x="569.0" y="698.1" font-size="12.50" fill="#1c1c1c" font-weight="bold" text-anchor="middle" font-family="'Liberation Sans',sans-serif" textLength="63.2" lengthAdjust="spacingAndGlyphs">RECORD IS</text>
<text x="569.0" y="714.7" font-size="12.50" fill="#1c1c1c" font-weight="bold" text-anchor="middle" font-family="'Liberation Sans',sans-serif" textLength="79.6" lengthAdjust="spacingAndGlyphs">INDIVIDUALLY</text>
<text x="569.0" y="731.4" font-size="12.50" fill="#1c1c1c" font-weight="bold" text-anchor="middle" font-family="'Liberation Sans',sans-serif" textLength="107.4" lengthAdjust="spacingAndGlyphs">RESEARCHED AND</text>
<text x="569.0" y="748.1" font-size="12.50" fill="#1c1c1c" font-weight="bold" text-anchor="middle" font-family="'Liberation Sans',sans-serif" textLength="116.3" lengthAdjust="spacingAndGlyphs">PLOTTED BASED ON</text>
<text x="569.0" y="764.7" font-size="12.50" fill="#1c1c1c" font-weight="bold" text-anchor="middle" font-family="'Liberation Sans',sans-serif" textLength="59.4" lengthAdjust="spacingAndGlyphs">LOCATION</text>
<text x="569.0" y="781.4" font-size="12.50" fill="#1c1c1c" font-weight="bold" text-anchor="middle" font-family="'Liberation Sans',sans-serif" textLength="80.2" lengthAdjust="spacingAndGlyphs">INFORMATION</text>
<text x="569.0" y="798.1" font-size="12.50" fill="#1c1c1c" font-weight="bold" text-anchor="middle" font-family="'Liberation Sans',sans-serif" textLength="86.6" lengthAdjust="spacingAndGlyphs">FOUND ON THE</text>
<text x="569.0" y="814.8" font-size="12.50" fill="#1c1c1c" font-weight="bold" text-anchor="middle" font-family="'Liberation Sans',sans-serif" textLength="115.6" lengthAdjust="spacingAndGlyphs">ORIGINAL DRILLERS</text>
<text x="569.0" y="831.4" font-size="12.50" fill="#1c1c1c" font-weight="bold" text-anchor="middle" font-family="'Liberation Sans',sans-serif" textLength="50.6" lengthAdjust="spacingAndGlyphs">REPORT.</text>
<g clip-path="url(#cm3)"><rect x="660" y="535" width="200" height="160" fill="#ffffff"/>
<path d="M718.5,542.8 L758.3,542.8 L758.3,557.3 L752.8,559.1 L747.2,564.7 L737.9,564.7 L745.4,572.1 L746.3,579.5 L739.8,585.1 L736.1,590.7 L737.9,598.1 L734.2,603.7 L723.1,604.6 L718.5,602.7 Z" fill="#7fdcc4"/>
<path d="M719.8,553.6 L730.5,552.6 L741.6,550.8 L734.2,557.3 L732.4,559.5 L720.3,560.6 Z" fill="#ffffff"/>
<path d="M699.0,614.8 L704.5,609.2 L712.0,606.4 L721.2,605.5 L724.0,601.8 L734.2,604.0 L741.6,601.8 L747.2,605.5 L752.8,611.1 L763.9,612.9 L771.3,618.5 L778.8,625.0 L773.2,629.6 L763.9,635.2 L754.6,638.0 L737.9,634.3 L721.2,635.2 L718.5,631.5 L715.7,622.2 Z" fill="#f27262"/>
<path d="M706.4,604.6 L717.5,600.9 L721.2,603.7 L726.8,607.4 L729.0,614.8 L721.2,613.9 L713.8,614.8 L707.3,610.2 Z" fill="#3b2c8c"/>
<path d="M767.6,599.0 L778.8,594.4 L786.2,587.0 L789.9,579.5 L823.3,577.7 L806.6,588.8 L801.0,603.7 L793.6,616.6 L786.2,625.9 L775.0,631.5 L765.8,633.3 L771.3,626.9 L778.8,622.2 L782.5,612.9 L780.6,605.5 L773.2,601.8 Z" fill="#2f8f4a"/>
<path d="M752.8,638.9 Q771.3,636.1 789.9,618.5" stroke="#66ee55" stroke-width="4" fill="none"/>
<path d="M814.0,587.9 L838.1,583.6 L840.9,611.1 L814.0,620.4 L795.5,633.3 L775.0,651.0 L765.8,661.2 L756.5,648.2 L771.3,638.9 L793.6,623.1 L804.7,605.5 L810.3,592.5 Z" fill="#6a7fab"/>
<path d="M814.9,622.2 L844.1,612.9 L843.7,631.5 L827.0,638.9 L804.7,650.0 L793.6,664.9 L792.7,681.6 L775.0,677.9 L771.3,661.2 L780.6,650.0 L801.0,635.2 Z" fill="#b555f5"/>
<path d="M670.2,603.3 L678.6,604.0 L686.0,616.6 L682.3,614.8 Z" fill="#a0a050"/>
<path d="M747.2,570.3 L758.3,564.7 L761.1,569.3 L752.8,574.0 Z" fill="#f2b8da"/>
<path d="M749.1,585.1 L763.9,581.4 L766.7,588.8 L752.8,590.7 Z" fill="#f2b8da"/>
<path d="M749.1,599.0 L756.5,598.1 L754.6,602.7 L750.0,601.8 Z" fill="#f2b8da"/>
<path d="M770.4,575.8 L782.5,573.6 L780.6,578.1 L772.3,579.2 Z" fill="#30d8f0"/>
</g>
<path d="M718.7,543.0 L757.5,543.0 L758.0,568.8 L762.4,570.1 L766.8,571.4 L777.7,573.9 L787.0,576.0 L797.3,576.5 L804.7,576.9 L818.9,574.3 L826.8,576.0 L834.7,578.1 L835.7,588.3 L836.2,598.5 L840.1,603.5 L845.0,609.5 L845.0,618.8 L843.5,624.3 L842.5,629.8 L830.7,633.6 L829.8,635.7 L819.9,642.9 L811.1,647.6 L803.7,652.2 L798.3,658.6 L795.8,664.5 L796.8,670.9 L799.3,678.5 L800.3,683.2 L794.4,684.0 L783.1,680.6 L773.2,674.3 L766.8,665.4 L761.9,656.9 L754.6,647.2 L748.2,640.0 L741.8,635.3 L734.4,631.1 L725.5,632.3 L720.6,640.0 L715.7,643.4 L703.4,637.4 L695.6,631.1 L694.6,624.7 L683.3,615.0 L674.4,606.5 L670.0,601.4 L718.2,602.3 Z" fill="none" stroke="#333" stroke-width="1"/>
<text x="882.6" y="602.3" font-size="13.81" fill="#111" font-weight="normal" text-anchor="start" font-family="'Liberation Sans',sans-serif" textLength="90.6" lengthAdjust="spacingAndGlyphs" stroke="#111" stroke-width="0.4">THE 9 MAJOR</text>
<text x="855.6" y="622.4" font-size="13.81" fill="#111" font-weight="normal" text-anchor="start" font-family="'Liberation Sans',sans-serif" textLength="145.0" lengthAdjust="spacingAndGlyphs" stroke="#111" stroke-width="0.4">AQUIFERS OF TEXAS*</text>
<g clip-path="url(#cm4)"><rect x="660" y="670" width="200" height="170" fill="#f88b60"/>
<path d="M660.0,743.6 L715.2,743.6 L715.2,735.9 L734.3,735.9 L734.3,730.2 L748.6,730.2 L748.6,741.7 L766.6,742.6 L774.3,747.4 L770.5,755.0 L771.4,764.5 L768.6,766.4 L774.3,774.0 L757.1,778.8 L749.5,785.5 L734.3,774.0 L720.9,774.0 L711.4,789.3 L660.0,789.3 Z" fill="#fde3b8" stroke="#b08070" stroke-width="0.5"/>
<path d="M749.5,710.2 L757.5,705.5 L774.3,705.5 L793.3,713.1 L793.3,723.6 L778.1,723.6 L765.7,720.7 L763.8,717.8 L758.1,718.8 L749.5,723.6 Z" fill="#fde3b8" stroke="#b08070" stroke-width="0.5"/>
<path d="M816.2,713.1 L850.4,713.1 L850.4,737.8 L820.0,737.8 L818.1,735.9 L810.4,730.2 L812.4,724.5 L816.2,722.6 Z" fill="#fde3b8" stroke="#b08070" stroke-width="0.5"/>
<path d="M774.3,791.2 L783.8,789.3 L793.3,795.0 L804.7,800.7 L799.0,808.3 L797.1,819.7 L785.7,815.9 L780.0,808.3 L774.3,798.8 Z" fill="#fde3b8" stroke="#b08070" stroke-width="0.5"/>
<ellipse cx="803.8" cy="782.6" rx="5.5" ry="7" transform="rotate(-35 803.8 782.6)" fill="#fde3b8" stroke="#b08070" stroke-width="0.5"/>
<path d="M715.2,698.8 L727.6,698.8 L727.6,704.5 L743.8,704.5 L749.5,710.2 L749.5,723.6 L742.8,724.5 L742.8,729.3 L734.3,730.2 L734.3,735.9 L715.2,735.9 Z" fill="#f20a0a" stroke="#b08070" stroke-width="0.5"/>
<path d="M806.6,770.2 L818.1,756.9 L827.6,755.0 L831.4,762.6 L837.1,778.8 L821.9,789.3 L810.4,777.8 Z" fill="#f20a0a" stroke="#b08070" stroke-width="0.5"/>
<path d="M810.4,751.2 L816.2,749.3 L818.1,755.0 L814.3,759.7 L810.4,756.9 Z" fill="#f20a0a" stroke="#b08070" stroke-width="0.5"/>
</g>
<path d="M716.2,680.0 L757.0,680.0 L757.5,707.3 L762.2,708.6 L766.8,710.0 L778.2,712.7 L788.0,714.9 L798.9,715.3 L806.6,715.8 L821.6,713.1 L829.9,714.9 L838.1,717.1 L839.2,727.9 L839.7,738.6 L843.8,744.0 L849.0,750.2 L849.0,760.1 L847.4,765.9 L846.4,771.7 L834.0,775.8 L833.0,778.0 L822.6,785.6 L813.3,790.5 L805.6,795.4 L799.9,802.2 L797.3,808.4 L798.3,815.1 L800.9,823.2 L802.0,828.1 L795.8,829.0 L783.9,825.4 L773.5,818.7 L766.8,809.3 L761.7,800.4 L753.9,790.1 L747.2,782.5 L740.5,777.5 L732.7,773.1 L723.4,774.4 L718.2,782.5 L713.1,786.0 L700.1,779.8 L691.9,773.1 L690.8,766.4 L679.0,756.1 L669.7,747.1 L665.0,741.7 L715.7,742.6 Z" fill="none" stroke="#a08070" stroke-width="0.8"/>
<text x="869.0" y="735.7" font-size="14.83" fill="#111" font-weight="normal" text-anchor="start" font-family="'Liberation Sans',sans-serif" textLength="118.8" lengthAdjust="spacingAndGlyphs" stroke="#111" stroke-width="0.4">TOTAL REGIONAL</text>
<text x="861.0" y="755.8" font-size="14.83" fill="#111" font-weight="normal" text-anchor="start" font-family="'Liberation Sans',sans-serif" textLength="136.0" lengthAdjust="spacingAndGlyphs" stroke="#111" stroke-width="0.4">WATER DEMAND BY</text>
<text x="909.3" y="775.9" font-size="14.83" fill="#111" font-weight="normal" text-anchor="start" font-family="'Liberation Sans',sans-serif" textLength="38.4" lengthAdjust="spacingAndGlyphs" stroke="#111" stroke-width="0.4">2020*</text>
<text x="715.7" y="858.8" font-size="10.17" fill="#222" font-weight="normal" text-anchor="start" font-family="'Liberation Sans',sans-serif" textLength="259.3" lengthAdjust="spacingAndGlyphs" stroke="#222" stroke-width="0.15">*Data provided by the Texas Water Development Board (TWDB)</text>
</svg>
</body></html>
